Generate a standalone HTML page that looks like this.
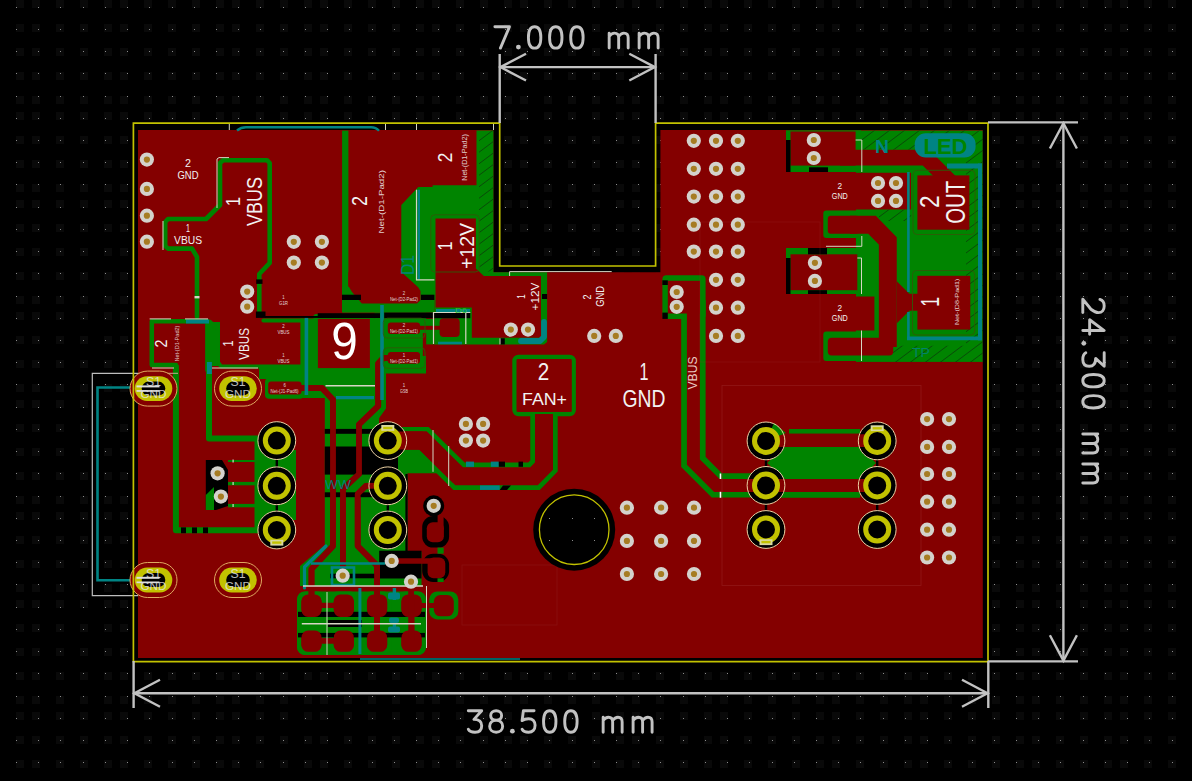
<!DOCTYPE html><html><head><meta charset="utf-8"><title>PCB</title><style>html,body{margin:0;padding:0;background:#000;overflow:hidden}svg{display:block}text{font-family:"Liberation Sans",sans-serif}</style></head><body><svg width="1192" height="781" viewBox="0 0 1192 781" font-family="'Liberation Sans', sans-serif"><path d="M16 0h8v8h-8zM32 0h8v8h-8zM56 0h8v8h-8zM80 0h8v8h-8zM104 0h8v8h-8zM120 0h8v8h-8zM144 0h8v8h-8zM168 0h8v8h-8zM192 0h8v8h-8zM216 0h8v8h-8zM232 0h8v8h-8zM256 0h8v8h-8zM280 0h8v8h-8zM304 0h8v8h-8zM320 0h8v8h-8zM344 0h8v8h-8zM368 0h8v8h-8zM392 0h8v8h-8zM416 0h8v8h-8zM432 0h8v8h-8zM456 0h8v8h-8zM480 0h8v8h-8zM504 0h8v8h-8zM520 0h8v8h-8zM544 0h8v8h-8zM568 0h8v8h-8zM592 0h8v8h-8zM616 0h8v8h-8zM632 0h8v8h-8zM656 0h8v8h-8zM680 0h8v8h-8zM704 0h8v8h-8zM720 0h8v8h-8zM744 0h8v8h-8zM768 0h8v8h-8zM792 0h8v8h-8zM816 0h8v8h-8zM832 0h8v8h-8zM856 0h8v8h-8zM880 0h8v8h-8zM904 0h8v8h-8zM920 0h8v8h-8zM944 0h8v8h-8zM968 0h8v8h-8zM992 0h8v8h-8zM1016 0h8v8h-8zM1032 0h8v8h-8zM1056 0h8v8h-8zM1080 0h8v8h-8zM1104 0h8v8h-8zM1120 0h8v8h-8zM1144 0h8v8h-8zM1168 0h8v8h-8zM16 24h8v8h-8zM32 24h8v8h-8zM56 24h8v8h-8zM80 24h8v8h-8zM104 24h8v8h-8zM120 24h8v8h-8zM144 24h8v8h-8zM168 24h8v8h-8zM192 24h8v8h-8zM216 24h8v8h-8zM232 24h8v8h-8zM256 24h8v8h-8zM280 24h8v8h-8zM304 24h8v8h-8zM320 24h8v8h-8zM344 24h8v8h-8zM368 24h8v8h-8zM392 24h8v8h-8zM416 24h8v8h-8zM432 24h8v8h-8zM456 24h8v8h-8zM480 24h8v8h-8zM504 24h8v8h-8zM520 24h8v8h-8zM544 24h8v8h-8zM568 24h8v8h-8zM592 24h8v8h-8zM616 24h8v8h-8zM632 24h8v8h-8zM656 24h8v8h-8zM680 24h8v8h-8zM704 24h8v8h-8zM720 24h8v8h-8zM744 24h8v8h-8zM768 24h8v8h-8zM792 24h8v8h-8zM816 24h8v8h-8zM832 24h8v8h-8zM856 24h8v8h-8zM880 24h8v8h-8zM904 24h8v8h-8zM920 24h8v8h-8zM944 24h8v8h-8zM968 24h8v8h-8zM992 24h8v8h-8zM1016 24h8v8h-8zM1032 24h8v8h-8zM1056 24h8v8h-8zM1080 24h8v8h-8zM1104 24h8v8h-8zM1120 24h8v8h-8zM1144 24h8v8h-8zM1168 24h8v8h-8zM16 48h8v8h-8zM32 48h8v8h-8zM56 48h8v8h-8zM80 48h8v8h-8zM104 48h8v8h-8zM120 48h8v8h-8zM144 48h8v8h-8zM168 48h8v8h-8zM192 48h8v8h-8zM216 48h8v8h-8zM232 48h8v8h-8zM256 48h8v8h-8zM280 48h8v8h-8zM304 48h8v8h-8zM320 48h8v8h-8zM344 48h8v8h-8zM368 48h8v8h-8zM392 48h8v8h-8zM416 48h8v8h-8zM432 48h8v8h-8zM456 48h8v8h-8zM480 48h8v8h-8zM504 48h8v8h-8zM520 48h8v8h-8zM544 48h8v8h-8zM568 48h8v8h-8zM592 48h8v8h-8zM616 48h8v8h-8zM632 48h8v8h-8zM656 48h8v8h-8zM680 48h8v8h-8zM704 48h8v8h-8zM720 48h8v8h-8zM744 48h8v8h-8zM768 48h8v8h-8zM792 48h8v8h-8zM816 48h8v8h-8zM832 48h8v8h-8zM856 48h8v8h-8zM880 48h8v8h-8zM904 48h8v8h-8zM920 48h8v8h-8zM944 48h8v8h-8zM968 48h8v8h-8zM992 48h8v8h-8zM1016 48h8v8h-8zM1032 48h8v8h-8zM1056 48h8v8h-8zM1080 48h8v8h-8zM1104 48h8v8h-8zM1120 48h8v8h-8zM1144 48h8v8h-8zM1168 48h8v8h-8zM16 72h8v8h-8zM32 72h8v8h-8zM56 72h8v8h-8zM80 72h8v8h-8zM104 72h8v8h-8zM120 72h8v8h-8zM144 72h8v8h-8zM168 72h8v8h-8zM192 72h8v8h-8zM216 72h8v8h-8zM232 72h8v8h-8zM256 72h8v8h-8zM280 72h8v8h-8zM304 72h8v8h-8zM320 72h8v8h-8zM344 72h8v8h-8zM368 72h8v8h-8zM392 72h8v8h-8zM416 72h8v8h-8zM432 72h8v8h-8zM456 72h8v8h-8zM480 72h8v8h-8zM504 72h8v8h-8zM520 72h8v8h-8zM544 72h8v8h-8zM568 72h8v8h-8zM592 72h8v8h-8zM616 72h8v8h-8zM632 72h8v8h-8zM656 72h8v8h-8zM680 72h8v8h-8zM704 72h8v8h-8zM720 72h8v8h-8zM744 72h8v8h-8zM768 72h8v8h-8zM792 72h8v8h-8zM816 72h8v8h-8zM832 72h8v8h-8zM856 72h8v8h-8zM880 72h8v8h-8zM904 72h8v8h-8zM920 72h8v8h-8zM944 72h8v8h-8zM968 72h8v8h-8zM992 72h8v8h-8zM1016 72h8v8h-8zM1032 72h8v8h-8zM1056 72h8v8h-8zM1080 72h8v8h-8zM1104 72h8v8h-8zM1120 72h8v8h-8zM1144 72h8v8h-8zM1168 72h8v8h-8zM16 96h8v8h-8zM32 96h8v8h-8zM56 96h8v8h-8zM80 96h8v8h-8zM104 96h8v8h-8zM120 96h8v8h-8zM144 96h8v8h-8zM168 96h8v8h-8zM192 96h8v8h-8zM216 96h8v8h-8zM232 96h8v8h-8zM256 96h8v8h-8zM280 96h8v8h-8zM304 96h8v8h-8zM320 96h8v8h-8zM344 96h8v8h-8zM368 96h8v8h-8zM392 96h8v8h-8zM416 96h8v8h-8zM432 96h8v8h-8zM456 96h8v8h-8zM480 96h8v8h-8zM504 96h8v8h-8zM520 96h8v8h-8zM544 96h8v8h-8zM568 96h8v8h-8zM592 96h8v8h-8zM616 96h8v8h-8zM632 96h8v8h-8zM656 96h8v8h-8zM680 96h8v8h-8zM704 96h8v8h-8zM720 96h8v8h-8zM744 96h8v8h-8zM768 96h8v8h-8zM792 96h8v8h-8zM816 96h8v8h-8zM832 96h8v8h-8zM856 96h8v8h-8zM880 96h8v8h-8zM904 96h8v8h-8zM920 96h8v8h-8zM944 96h8v8h-8zM968 96h8v8h-8zM992 96h8v8h-8zM1016 96h8v8h-8zM1032 96h8v8h-8zM1056 96h8v8h-8zM1080 96h8v8h-8zM1104 96h8v8h-8zM1120 96h8v8h-8zM1144 96h8v8h-8zM1168 96h8v8h-8zM16 112h8v8h-8zM32 112h8v8h-8zM56 112h8v8h-8zM80 112h8v8h-8zM104 112h8v8h-8zM120 112h8v8h-8zM144 112h8v8h-8zM168 112h8v8h-8zM192 112h8v8h-8zM216 112h8v8h-8zM232 112h8v8h-8zM256 112h8v8h-8zM280 112h8v8h-8zM304 112h8v8h-8zM320 112h8v8h-8zM344 112h8v8h-8zM368 112h8v8h-8zM392 112h8v8h-8zM416 112h8v8h-8zM432 112h8v8h-8zM456 112h8v8h-8zM480 112h8v8h-8zM504 112h8v8h-8zM520 112h8v8h-8zM544 112h8v8h-8zM568 112h8v8h-8zM592 112h8v8h-8zM616 112h8v8h-8zM632 112h8v8h-8zM656 112h8v8h-8zM680 112h8v8h-8zM704 112h8v8h-8zM720 112h8v8h-8zM744 112h8v8h-8zM768 112h8v8h-8zM792 112h8v8h-8zM816 112h8v8h-8zM832 112h8v8h-8zM856 112h8v8h-8zM880 112h8v8h-8zM904 112h8v8h-8zM920 112h8v8h-8zM944 112h8v8h-8zM968 112h8v8h-8zM992 112h8v8h-8zM1016 112h8v8h-8zM1032 112h8v8h-8zM1056 112h8v8h-8zM1080 112h8v8h-8zM1104 112h8v8h-8zM1120 112h8v8h-8zM1144 112h8v8h-8zM1168 112h8v8h-8zM16 136h8v8h-8zM32 136h8v8h-8zM56 136h8v8h-8zM80 136h8v8h-8zM104 136h8v8h-8zM120 136h8v8h-8zM144 136h8v8h-8zM168 136h8v8h-8zM192 136h8v8h-8zM216 136h8v8h-8zM232 136h8v8h-8zM256 136h8v8h-8zM280 136h8v8h-8zM304 136h8v8h-8zM320 136h8v8h-8zM344 136h8v8h-8zM368 136h8v8h-8zM392 136h8v8h-8zM416 136h8v8h-8zM432 136h8v8h-8zM456 136h8v8h-8zM480 136h8v8h-8zM504 136h8v8h-8zM520 136h8v8h-8zM544 136h8v8h-8zM568 136h8v8h-8zM592 136h8v8h-8zM616 136h8v8h-8zM632 136h8v8h-8zM656 136h8v8h-8zM680 136h8v8h-8zM704 136h8v8h-8zM720 136h8v8h-8zM744 136h8v8h-8zM768 136h8v8h-8zM792 136h8v8h-8zM816 136h8v8h-8zM832 136h8v8h-8zM856 136h8v8h-8zM880 136h8v8h-8zM904 136h8v8h-8zM920 136h8v8h-8zM944 136h8v8h-8zM968 136h8v8h-8zM992 136h8v8h-8zM1016 136h8v8h-8zM1032 136h8v8h-8zM1056 136h8v8h-8zM1080 136h8v8h-8zM1104 136h8v8h-8zM1120 136h8v8h-8zM1144 136h8v8h-8zM1168 136h8v8h-8zM16 160h8v8h-8zM32 160h8v8h-8zM56 160h8v8h-8zM80 160h8v8h-8zM104 160h8v8h-8zM120 160h8v8h-8zM144 160h8v8h-8zM168 160h8v8h-8zM192 160h8v8h-8zM216 160h8v8h-8zM232 160h8v8h-8zM256 160h8v8h-8zM280 160h8v8h-8zM304 160h8v8h-8zM320 160h8v8h-8zM344 160h8v8h-8zM368 160h8v8h-8zM392 160h8v8h-8zM416 160h8v8h-8zM432 160h8v8h-8zM456 160h8v8h-8zM480 160h8v8h-8zM504 160h8v8h-8zM520 160h8v8h-8zM544 160h8v8h-8zM568 160h8v8h-8zM592 160h8v8h-8zM616 160h8v8h-8zM632 160h8v8h-8zM656 160h8v8h-8zM680 160h8v8h-8zM704 160h8v8h-8zM720 160h8v8h-8zM744 160h8v8h-8zM768 160h8v8h-8zM792 160h8v8h-8zM816 160h8v8h-8zM832 160h8v8h-8zM856 160h8v8h-8zM880 160h8v8h-8zM904 160h8v8h-8zM920 160h8v8h-8zM944 160h8v8h-8zM968 160h8v8h-8zM992 160h8v8h-8zM1016 160h8v8h-8zM1032 160h8v8h-8zM1056 160h8v8h-8zM1080 160h8v8h-8zM1104 160h8v8h-8zM1120 160h8v8h-8zM1144 160h8v8h-8zM1168 160h8v8h-8zM16 184h8v8h-8zM32 184h8v8h-8zM56 184h8v8h-8zM80 184h8v8h-8zM104 184h8v8h-8zM120 184h8v8h-8zM144 184h8v8h-8zM168 184h8v8h-8zM192 184h8v8h-8zM216 184h8v8h-8zM232 184h8v8h-8zM256 184h8v8h-8zM280 184h8v8h-8zM304 184h8v8h-8zM320 184h8v8h-8zM344 184h8v8h-8zM368 184h8v8h-8zM392 184h8v8h-8zM416 184h8v8h-8zM432 184h8v8h-8zM456 184h8v8h-8zM480 184h8v8h-8zM504 184h8v8h-8zM520 184h8v8h-8zM544 184h8v8h-8zM568 184h8v8h-8zM592 184h8v8h-8zM616 184h8v8h-8zM632 184h8v8h-8zM656 184h8v8h-8zM680 184h8v8h-8zM704 184h8v8h-8zM720 184h8v8h-8zM744 184h8v8h-8zM768 184h8v8h-8zM792 184h8v8h-8zM816 184h8v8h-8zM832 184h8v8h-8zM856 184h8v8h-8zM880 184h8v8h-8zM904 184h8v8h-8zM920 184h8v8h-8zM944 184h8v8h-8zM968 184h8v8h-8zM992 184h8v8h-8zM1016 184h8v8h-8zM1032 184h8v8h-8zM1056 184h8v8h-8zM1080 184h8v8h-8zM1104 184h8v8h-8zM1120 184h8v8h-8zM1144 184h8v8h-8zM1168 184h8v8h-8zM16 200h8v8h-8zM32 200h8v8h-8zM56 200h8v8h-8zM80 200h8v8h-8zM104 200h8v8h-8zM120 200h8v8h-8zM144 200h8v8h-8zM168 200h8v8h-8zM192 200h8v8h-8zM216 200h8v8h-8zM232 200h8v8h-8zM256 200h8v8h-8zM280 200h8v8h-8zM304 200h8v8h-8zM320 200h8v8h-8zM344 200h8v8h-8zM368 200h8v8h-8zM392 200h8v8h-8zM416 200h8v8h-8zM432 200h8v8h-8zM456 200h8v8h-8zM480 200h8v8h-8zM504 200h8v8h-8zM520 200h8v8h-8zM544 200h8v8h-8zM568 200h8v8h-8zM592 200h8v8h-8zM616 200h8v8h-8zM632 200h8v8h-8zM656 200h8v8h-8zM680 200h8v8h-8zM704 200h8v8h-8zM720 200h8v8h-8zM744 200h8v8h-8zM768 200h8v8h-8zM792 200h8v8h-8zM816 200h8v8h-8zM832 200h8v8h-8zM856 200h8v8h-8zM880 200h8v8h-8zM904 200h8v8h-8zM920 200h8v8h-8zM944 200h8v8h-8zM968 200h8v8h-8zM992 200h8v8h-8zM1016 200h8v8h-8zM1032 200h8v8h-8zM1056 200h8v8h-8zM1080 200h8v8h-8zM1104 200h8v8h-8zM1120 200h8v8h-8zM1144 200h8v8h-8zM1168 200h8v8h-8zM16 224h8v8h-8zM32 224h8v8h-8zM56 224h8v8h-8zM80 224h8v8h-8zM104 224h8v8h-8zM120 224h8v8h-8zM144 224h8v8h-8zM168 224h8v8h-8zM192 224h8v8h-8zM216 224h8v8h-8zM232 224h8v8h-8zM256 224h8v8h-8zM280 224h8v8h-8zM304 224h8v8h-8zM320 224h8v8h-8zM344 224h8v8h-8zM368 224h8v8h-8zM392 224h8v8h-8zM416 224h8v8h-8zM432 224h8v8h-8zM456 224h8v8h-8zM480 224h8v8h-8zM504 224h8v8h-8zM520 224h8v8h-8zM544 224h8v8h-8zM568 224h8v8h-8zM592 224h8v8h-8zM616 224h8v8h-8zM632 224h8v8h-8zM656 224h8v8h-8zM680 224h8v8h-8zM704 224h8v8h-8zM720 224h8v8h-8zM744 224h8v8h-8zM768 224h8v8h-8zM792 224h8v8h-8zM816 224h8v8h-8zM832 224h8v8h-8zM856 224h8v8h-8zM880 224h8v8h-8zM904 224h8v8h-8zM920 224h8v8h-8zM944 224h8v8h-8zM968 224h8v8h-8zM992 224h8v8h-8zM1016 224h8v8h-8zM1032 224h8v8h-8zM1056 224h8v8h-8zM1080 224h8v8h-8zM1104 224h8v8h-8zM1120 224h8v8h-8zM1144 224h8v8h-8zM1168 224h8v8h-8zM16 248h8v8h-8zM32 248h8v8h-8zM56 248h8v8h-8zM80 248h8v8h-8zM104 248h8v8h-8zM120 248h8v8h-8zM144 248h8v8h-8zM168 248h8v8h-8zM192 248h8v8h-8zM216 248h8v8h-8zM232 248h8v8h-8zM256 248h8v8h-8zM280 248h8v8h-8zM304 248h8v8h-8zM320 248h8v8h-8zM344 248h8v8h-8zM368 248h8v8h-8zM392 248h8v8h-8zM416 248h8v8h-8zM432 248h8v8h-8zM456 248h8v8h-8zM480 248h8v8h-8zM504 248h8v8h-8zM520 248h8v8h-8zM544 248h8v8h-8zM568 248h8v8h-8zM592 248h8v8h-8zM616 248h8v8h-8zM632 248h8v8h-8zM656 248h8v8h-8zM680 248h8v8h-8zM704 248h8v8h-8zM720 248h8v8h-8zM744 248h8v8h-8zM768 248h8v8h-8zM792 248h8v8h-8zM816 248h8v8h-8zM832 248h8v8h-8zM856 248h8v8h-8zM880 248h8v8h-8zM904 248h8v8h-8zM920 248h8v8h-8zM944 248h8v8h-8zM968 248h8v8h-8zM992 248h8v8h-8zM1016 248h8v8h-8zM1032 248h8v8h-8zM1056 248h8v8h-8zM1080 248h8v8h-8zM1104 248h8v8h-8zM1120 248h8v8h-8zM1144 248h8v8h-8zM1168 248h8v8h-8zM16 272h8v8h-8zM32 272h8v8h-8zM56 272h8v8h-8zM80 272h8v8h-8zM104 272h8v8h-8zM120 272h8v8h-8zM144 272h8v8h-8zM168 272h8v8h-8zM192 272h8v8h-8zM216 272h8v8h-8zM232 272h8v8h-8zM256 272h8v8h-8zM280 272h8v8h-8zM304 272h8v8h-8zM320 272h8v8h-8zM344 272h8v8h-8zM368 272h8v8h-8zM392 272h8v8h-8zM416 272h8v8h-8zM432 272h8v8h-8zM456 272h8v8h-8zM480 272h8v8h-8zM504 272h8v8h-8zM520 272h8v8h-8zM544 272h8v8h-8zM568 272h8v8h-8zM592 272h8v8h-8zM616 272h8v8h-8zM632 272h8v8h-8zM656 272h8v8h-8zM680 272h8v8h-8zM704 272h8v8h-8zM720 272h8v8h-8zM744 272h8v8h-8zM768 272h8v8h-8zM792 272h8v8h-8zM816 272h8v8h-8zM832 272h8v8h-8zM856 272h8v8h-8zM880 272h8v8h-8zM904 272h8v8h-8zM920 272h8v8h-8zM944 272h8v8h-8zM968 272h8v8h-8zM992 272h8v8h-8zM1016 272h8v8h-8zM1032 272h8v8h-8zM1056 272h8v8h-8zM1080 272h8v8h-8zM1104 272h8v8h-8zM1120 272h8v8h-8zM1144 272h8v8h-8zM1168 272h8v8h-8zM16 296h8v8h-8zM32 296h8v8h-8zM56 296h8v8h-8zM80 296h8v8h-8zM104 296h8v8h-8zM120 296h8v8h-8zM144 296h8v8h-8zM168 296h8v8h-8zM192 296h8v8h-8zM216 296h8v8h-8zM232 296h8v8h-8zM256 296h8v8h-8zM280 296h8v8h-8zM304 296h8v8h-8zM320 296h8v8h-8zM344 296h8v8h-8zM368 296h8v8h-8zM392 296h8v8h-8zM416 296h8v8h-8zM432 296h8v8h-8zM456 296h8v8h-8zM480 296h8v8h-8zM504 296h8v8h-8zM520 296h8v8h-8zM544 296h8v8h-8zM568 296h8v8h-8zM592 296h8v8h-8zM616 296h8v8h-8zM632 296h8v8h-8zM656 296h8v8h-8zM680 296h8v8h-8zM704 296h8v8h-8zM720 296h8v8h-8zM744 296h8v8h-8zM768 296h8v8h-8zM792 296h8v8h-8zM816 296h8v8h-8zM832 296h8v8h-8zM856 296h8v8h-8zM880 296h8v8h-8zM904 296h8v8h-8zM920 296h8v8h-8zM944 296h8v8h-8zM968 296h8v8h-8zM992 296h8v8h-8zM1016 296h8v8h-8zM1032 296h8v8h-8zM1056 296h8v8h-8zM1080 296h8v8h-8zM1104 296h8v8h-8zM1120 296h8v8h-8zM1144 296h8v8h-8zM1168 296h8v8h-8zM16 312h8v8h-8zM32 312h8v8h-8zM56 312h8v8h-8zM80 312h8v8h-8zM104 312h8v8h-8zM120 312h8v8h-8zM144 312h8v8h-8zM168 312h8v8h-8zM192 312h8v8h-8zM216 312h8v8h-8zM232 312h8v8h-8zM256 312h8v8h-8zM280 312h8v8h-8zM304 312h8v8h-8zM320 312h8v8h-8zM344 312h8v8h-8zM368 312h8v8h-8zM392 312h8v8h-8zM416 312h8v8h-8zM432 312h8v8h-8zM456 312h8v8h-8zM480 312h8v8h-8zM504 312h8v8h-8zM520 312h8v8h-8zM544 312h8v8h-8zM568 312h8v8h-8zM592 312h8v8h-8zM616 312h8v8h-8zM632 312h8v8h-8zM656 312h8v8h-8zM680 312h8v8h-8zM704 312h8v8h-8zM720 312h8v8h-8zM744 312h8v8h-8zM768 312h8v8h-8zM792 312h8v8h-8zM816 312h8v8h-8zM832 312h8v8h-8zM856 312h8v8h-8zM880 312h8v8h-8zM904 312h8v8h-8zM920 312h8v8h-8zM944 312h8v8h-8zM968 312h8v8h-8zM992 312h8v8h-8zM1016 312h8v8h-8zM1032 312h8v8h-8zM1056 312h8v8h-8zM1080 312h8v8h-8zM1104 312h8v8h-8zM1120 312h8v8h-8zM1144 312h8v8h-8zM1168 312h8v8h-8zM16 336h8v8h-8zM32 336h8v8h-8zM56 336h8v8h-8zM80 336h8v8h-8zM104 336h8v8h-8zM120 336h8v8h-8zM144 336h8v8h-8zM168 336h8v8h-8zM192 336h8v8h-8zM216 336h8v8h-8zM232 336h8v8h-8zM256 336h8v8h-8zM280 336h8v8h-8zM304 336h8v8h-8zM320 336h8v8h-8zM344 336h8v8h-8zM368 336h8v8h-8zM392 336h8v8h-8zM416 336h8v8h-8zM432 336h8v8h-8zM456 336h8v8h-8zM480 336h8v8h-8zM504 336h8v8h-8zM520 336h8v8h-8zM544 336h8v8h-8zM568 336h8v8h-8zM592 336h8v8h-8zM616 336h8v8h-8zM632 336h8v8h-8zM656 336h8v8h-8zM680 336h8v8h-8zM704 336h8v8h-8zM720 336h8v8h-8zM744 336h8v8h-8zM768 336h8v8h-8zM792 336h8v8h-8zM816 336h8v8h-8zM832 336h8v8h-8zM856 336h8v8h-8zM880 336h8v8h-8zM904 336h8v8h-8zM920 336h8v8h-8zM944 336h8v8h-8zM968 336h8v8h-8zM992 336h8v8h-8zM1016 336h8v8h-8zM1032 336h8v8h-8zM1056 336h8v8h-8zM1080 336h8v8h-8zM1104 336h8v8h-8zM1120 336h8v8h-8zM1144 336h8v8h-8zM1168 336h8v8h-8zM16 360h8v8h-8zM32 360h8v8h-8zM56 360h8v8h-8zM80 360h8v8h-8zM104 360h8v8h-8zM120 360h8v8h-8zM144 360h8v8h-8zM168 360h8v8h-8zM192 360h8v8h-8zM216 360h8v8h-8zM232 360h8v8h-8zM256 360h8v8h-8zM280 360h8v8h-8zM304 360h8v8h-8zM320 360h8v8h-8zM344 360h8v8h-8zM368 360h8v8h-8zM392 360h8v8h-8zM416 360h8v8h-8zM432 360h8v8h-8zM456 360h8v8h-8zM480 360h8v8h-8zM504 360h8v8h-8zM520 360h8v8h-8zM544 360h8v8h-8zM568 360h8v8h-8zM592 360h8v8h-8zM616 360h8v8h-8zM632 360h8v8h-8zM656 360h8v8h-8zM680 360h8v8h-8zM704 360h8v8h-8zM720 360h8v8h-8zM744 360h8v8h-8zM768 360h8v8h-8zM792 360h8v8h-8zM816 360h8v8h-8zM832 360h8v8h-8zM856 360h8v8h-8zM880 360h8v8h-8zM904 360h8v8h-8zM920 360h8v8h-8zM944 360h8v8h-8zM968 360h8v8h-8zM992 360h8v8h-8zM1016 360h8v8h-8zM1032 360h8v8h-8zM1056 360h8v8h-8zM1080 360h8v8h-8zM1104 360h8v8h-8zM1120 360h8v8h-8zM1144 360h8v8h-8zM1168 360h8v8h-8zM16 384h8v8h-8zM32 384h8v8h-8zM56 384h8v8h-8zM80 384h8v8h-8zM104 384h8v8h-8zM120 384h8v8h-8zM144 384h8v8h-8zM168 384h8v8h-8zM192 384h8v8h-8zM216 384h8v8h-8zM232 384h8v8h-8zM256 384h8v8h-8zM280 384h8v8h-8zM304 384h8v8h-8zM320 384h8v8h-8zM344 384h8v8h-8zM368 384h8v8h-8zM392 384h8v8h-8zM416 384h8v8h-8zM432 384h8v8h-8zM456 384h8v8h-8zM480 384h8v8h-8zM504 384h8v8h-8zM520 384h8v8h-8zM544 384h8v8h-8zM568 384h8v8h-8zM592 384h8v8h-8zM616 384h8v8h-8zM632 384h8v8h-8zM656 384h8v8h-8zM680 384h8v8h-8zM704 384h8v8h-8zM720 384h8v8h-8zM744 384h8v8h-8zM768 384h8v8h-8zM792 384h8v8h-8zM816 384h8v8h-8zM832 384h8v8h-8zM856 384h8v8h-8zM880 384h8v8h-8zM904 384h8v8h-8zM920 384h8v8h-8zM944 384h8v8h-8zM968 384h8v8h-8zM992 384h8v8h-8zM1016 384h8v8h-8zM1032 384h8v8h-8zM1056 384h8v8h-8zM1080 384h8v8h-8zM1104 384h8v8h-8zM1120 384h8v8h-8zM1144 384h8v8h-8zM1168 384h8v8h-8zM16 400h8v8h-8zM32 400h8v8h-8zM56 400h8v8h-8zM80 400h8v8h-8zM104 400h8v8h-8zM120 400h8v8h-8zM144 400h8v8h-8zM168 400h8v8h-8zM192 400h8v8h-8zM216 400h8v8h-8zM232 400h8v8h-8zM256 400h8v8h-8zM280 400h8v8h-8zM304 400h8v8h-8zM320 400h8v8h-8zM344 400h8v8h-8zM368 400h8v8h-8zM392 400h8v8h-8zM416 400h8v8h-8zM432 400h8v8h-8zM456 400h8v8h-8zM480 400h8v8h-8zM504 400h8v8h-8zM520 400h8v8h-8zM544 400h8v8h-8zM568 400h8v8h-8zM592 400h8v8h-8zM616 400h8v8h-8zM632 400h8v8h-8zM656 400h8v8h-8zM680 400h8v8h-8zM704 400h8v8h-8zM720 400h8v8h-8zM744 400h8v8h-8zM768 400h8v8h-8zM792 400h8v8h-8zM816 400h8v8h-8zM832 400h8v8h-8zM856 400h8v8h-8zM880 400h8v8h-8zM904 400h8v8h-8zM920 400h8v8h-8zM944 400h8v8h-8zM968 400h8v8h-8zM992 400h8v8h-8zM1016 400h8v8h-8zM1032 400h8v8h-8zM1056 400h8v8h-8zM1080 400h8v8h-8zM1104 400h8v8h-8zM1120 400h8v8h-8zM1144 400h8v8h-8zM1168 400h8v8h-8zM16 424h8v8h-8zM32 424h8v8h-8zM56 424h8v8h-8zM80 424h8v8h-8zM104 424h8v8h-8zM120 424h8v8h-8zM144 424h8v8h-8zM168 424h8v8h-8zM192 424h8v8h-8zM216 424h8v8h-8zM232 424h8v8h-8zM256 424h8v8h-8zM280 424h8v8h-8zM304 424h8v8h-8zM320 424h8v8h-8zM344 424h8v8h-8zM368 424h8v8h-8zM392 424h8v8h-8zM416 424h8v8h-8zM432 424h8v8h-8zM456 424h8v8h-8zM480 424h8v8h-8zM504 424h8v8h-8zM520 424h8v8h-8zM544 424h8v8h-8zM568 424h8v8h-8zM592 424h8v8h-8zM616 424h8v8h-8zM632 424h8v8h-8zM656 424h8v8h-8zM680 424h8v8h-8zM704 424h8v8h-8zM720 424h8v8h-8zM744 424h8v8h-8zM768 424h8v8h-8zM792 424h8v8h-8zM816 424h8v8h-8zM832 424h8v8h-8zM856 424h8v8h-8zM880 424h8v8h-8zM904 424h8v8h-8zM920 424h8v8h-8zM944 424h8v8h-8zM968 424h8v8h-8zM992 424h8v8h-8zM1016 424h8v8h-8zM1032 424h8v8h-8zM1056 424h8v8h-8zM1080 424h8v8h-8zM1104 424h8v8h-8zM1120 424h8v8h-8zM1144 424h8v8h-8zM1168 424h8v8h-8zM16 448h8v8h-8zM32 448h8v8h-8zM56 448h8v8h-8zM80 448h8v8h-8zM104 448h8v8h-8zM120 448h8v8h-8zM144 448h8v8h-8zM168 448h8v8h-8zM192 448h8v8h-8zM216 448h8v8h-8zM232 448h8v8h-8zM256 448h8v8h-8zM280 448h8v8h-8zM304 448h8v8h-8zM320 448h8v8h-8zM344 448h8v8h-8zM368 448h8v8h-8zM392 448h8v8h-8zM416 448h8v8h-8zM432 448h8v8h-8zM456 448h8v8h-8zM480 448h8v8h-8zM504 448h8v8h-8zM520 448h8v8h-8zM544 448h8v8h-8zM568 448h8v8h-8zM592 448h8v8h-8zM616 448h8v8h-8zM632 448h8v8h-8zM656 448h8v8h-8zM680 448h8v8h-8zM704 448h8v8h-8zM720 448h8v8h-8zM744 448h8v8h-8zM768 448h8v8h-8zM792 448h8v8h-8zM816 448h8v8h-8zM832 448h8v8h-8zM856 448h8v8h-8zM880 448h8v8h-8zM904 448h8v8h-8zM920 448h8v8h-8zM944 448h8v8h-8zM968 448h8v8h-8zM992 448h8v8h-8zM1016 448h8v8h-8zM1032 448h8v8h-8zM1056 448h8v8h-8zM1080 448h8v8h-8zM1104 448h8v8h-8zM1120 448h8v8h-8zM1144 448h8v8h-8zM1168 448h8v8h-8zM16 472h8v8h-8zM32 472h8v8h-8zM56 472h8v8h-8zM80 472h8v8h-8zM104 472h8v8h-8zM120 472h8v8h-8zM144 472h8v8h-8zM168 472h8v8h-8zM192 472h8v8h-8zM216 472h8v8h-8zM232 472h8v8h-8zM256 472h8v8h-8zM280 472h8v8h-8zM304 472h8v8h-8zM320 472h8v8h-8zM344 472h8v8h-8zM368 472h8v8h-8zM392 472h8v8h-8zM416 472h8v8h-8zM432 472h8v8h-8zM456 472h8v8h-8zM480 472h8v8h-8zM504 472h8v8h-8zM520 472h8v8h-8zM544 472h8v8h-8zM568 472h8v8h-8zM592 472h8v8h-8zM616 472h8v8h-8zM632 472h8v8h-8zM656 472h8v8h-8zM680 472h8v8h-8zM704 472h8v8h-8zM720 472h8v8h-8zM744 472h8v8h-8zM768 472h8v8h-8zM792 472h8v8h-8zM816 472h8v8h-8zM832 472h8v8h-8zM856 472h8v8h-8zM880 472h8v8h-8zM904 472h8v8h-8zM920 472h8v8h-8zM944 472h8v8h-8zM968 472h8v8h-8zM992 472h8v8h-8zM1016 472h8v8h-8zM1032 472h8v8h-8zM1056 472h8v8h-8zM1080 472h8v8h-8zM1104 472h8v8h-8zM1120 472h8v8h-8zM1144 472h8v8h-8zM1168 472h8v8h-8zM16 496h8v8h-8zM32 496h8v8h-8zM56 496h8v8h-8zM80 496h8v8h-8zM104 496h8v8h-8zM120 496h8v8h-8zM144 496h8v8h-8zM168 496h8v8h-8zM192 496h8v8h-8zM216 496h8v8h-8zM232 496h8v8h-8zM256 496h8v8h-8zM280 496h8v8h-8zM304 496h8v8h-8zM320 496h8v8h-8zM344 496h8v8h-8zM368 496h8v8h-8zM392 496h8v8h-8zM416 496h8v8h-8zM432 496h8v8h-8zM456 496h8v8h-8zM480 496h8v8h-8zM504 496h8v8h-8zM520 496h8v8h-8zM544 496h8v8h-8zM568 496h8v8h-8zM592 496h8v8h-8zM616 496h8v8h-8zM632 496h8v8h-8zM656 496h8v8h-8zM680 496h8v8h-8zM704 496h8v8h-8zM720 496h8v8h-8zM744 496h8v8h-8zM768 496h8v8h-8zM792 496h8v8h-8zM816 496h8v8h-8zM832 496h8v8h-8zM856 496h8v8h-8zM880 496h8v8h-8zM904 496h8v8h-8zM920 496h8v8h-8zM944 496h8v8h-8zM968 496h8v8h-8zM992 496h8v8h-8zM1016 496h8v8h-8zM1032 496h8v8h-8zM1056 496h8v8h-8zM1080 496h8v8h-8zM1104 496h8v8h-8zM1120 496h8v8h-8zM1144 496h8v8h-8zM1168 496h8v8h-8zM16 512h8v8h-8zM32 512h8v8h-8zM56 512h8v8h-8zM80 512h8v8h-8zM104 512h8v8h-8zM120 512h8v8h-8zM144 512h8v8h-8zM168 512h8v8h-8zM192 512h8v8h-8zM216 512h8v8h-8zM232 512h8v8h-8zM256 512h8v8h-8zM280 512h8v8h-8zM304 512h8v8h-8zM320 512h8v8h-8zM344 512h8v8h-8zM368 512h8v8h-8zM392 512h8v8h-8zM416 512h8v8h-8zM432 512h8v8h-8zM456 512h8v8h-8zM480 512h8v8h-8zM504 512h8v8h-8zM520 512h8v8h-8zM544 512h8v8h-8zM568 512h8v8h-8zM592 512h8v8h-8zM616 512h8v8h-8zM632 512h8v8h-8zM656 512h8v8h-8zM680 512h8v8h-8zM704 512h8v8h-8zM720 512h8v8h-8zM744 512h8v8h-8zM768 512h8v8h-8zM792 512h8v8h-8zM816 512h8v8h-8zM832 512h8v8h-8zM856 512h8v8h-8zM880 512h8v8h-8zM904 512h8v8h-8zM920 512h8v8h-8zM944 512h8v8h-8zM968 512h8v8h-8zM992 512h8v8h-8zM1016 512h8v8h-8zM1032 512h8v8h-8zM1056 512h8v8h-8zM1080 512h8v8h-8zM1104 512h8v8h-8zM1120 512h8v8h-8zM1144 512h8v8h-8zM1168 512h8v8h-8zM16 536h8v8h-8zM32 536h8v8h-8zM56 536h8v8h-8zM80 536h8v8h-8zM104 536h8v8h-8zM120 536h8v8h-8zM144 536h8v8h-8zM168 536h8v8h-8zM192 536h8v8h-8zM216 536h8v8h-8zM232 536h8v8h-8zM256 536h8v8h-8zM280 536h8v8h-8zM304 536h8v8h-8zM320 536h8v8h-8zM344 536h8v8h-8zM368 536h8v8h-8zM392 536h8v8h-8zM416 536h8v8h-8zM432 536h8v8h-8zM456 536h8v8h-8zM480 536h8v8h-8zM504 536h8v8h-8zM520 536h8v8h-8zM544 536h8v8h-8zM568 536h8v8h-8zM592 536h8v8h-8zM616 536h8v8h-8zM632 536h8v8h-8zM656 536h8v8h-8zM680 536h8v8h-8zM704 536h8v8h-8zM720 536h8v8h-8zM744 536h8v8h-8zM768 536h8v8h-8zM792 536h8v8h-8zM816 536h8v8h-8zM832 536h8v8h-8zM856 536h8v8h-8zM880 536h8v8h-8zM904 536h8v8h-8zM920 536h8v8h-8zM944 536h8v8h-8zM968 536h8v8h-8zM992 536h8v8h-8zM1016 536h8v8h-8zM1032 536h8v8h-8zM1056 536h8v8h-8zM1080 536h8v8h-8zM1104 536h8v8h-8zM1120 536h8v8h-8zM1144 536h8v8h-8zM1168 536h8v8h-8zM16 560h8v8h-8zM32 560h8v8h-8zM56 560h8v8h-8zM80 560h8v8h-8zM104 560h8v8h-8zM120 560h8v8h-8zM144 560h8v8h-8zM168 560h8v8h-8zM192 560h8v8h-8zM216 560h8v8h-8zM232 560h8v8h-8zM256 560h8v8h-8zM280 560h8v8h-8zM304 560h8v8h-8zM320 560h8v8h-8zM344 560h8v8h-8zM368 560h8v8h-8zM392 560h8v8h-8zM416 560h8v8h-8zM432 560h8v8h-8zM456 560h8v8h-8zM480 560h8v8h-8zM504 560h8v8h-8zM520 560h8v8h-8zM544 560h8v8h-8zM568 560h8v8h-8zM592 560h8v8h-8zM616 560h8v8h-8zM632 560h8v8h-8zM656 560h8v8h-8zM680 560h8v8h-8zM704 560h8v8h-8zM720 560h8v8h-8zM744 560h8v8h-8zM768 560h8v8h-8zM792 560h8v8h-8zM816 560h8v8h-8zM832 560h8v8h-8zM856 560h8v8h-8zM880 560h8v8h-8zM904 560h8v8h-8zM920 560h8v8h-8zM944 560h8v8h-8zM968 560h8v8h-8zM992 560h8v8h-8zM1016 560h8v8h-8zM1032 560h8v8h-8zM1056 560h8v8h-8zM1080 560h8v8h-8zM1104 560h8v8h-8zM1120 560h8v8h-8zM1144 560h8v8h-8zM1168 560h8v8h-8zM16 584h8v8h-8zM32 584h8v8h-8zM56 584h8v8h-8zM80 584h8v8h-8zM104 584h8v8h-8zM120 584h8v8h-8zM144 584h8v8h-8zM168 584h8v8h-8zM192 584h8v8h-8zM216 584h8v8h-8zM232 584h8v8h-8zM256 584h8v8h-8zM280 584h8v8h-8zM304 584h8v8h-8zM320 584h8v8h-8zM344 584h8v8h-8zM368 584h8v8h-8zM392 584h8v8h-8zM416 584h8v8h-8zM432 584h8v8h-8zM456 584h8v8h-8zM480 584h8v8h-8zM504 584h8v8h-8zM520 584h8v8h-8zM544 584h8v8h-8zM568 584h8v8h-8zM592 584h8v8h-8zM616 584h8v8h-8zM632 584h8v8h-8zM656 584h8v8h-8zM680 584h8v8h-8zM704 584h8v8h-8zM720 584h8v8h-8zM744 584h8v8h-8zM768 584h8v8h-8zM792 584h8v8h-8zM816 584h8v8h-8zM832 584h8v8h-8zM856 584h8v8h-8zM880 584h8v8h-8zM904 584h8v8h-8zM920 584h8v8h-8zM944 584h8v8h-8zM968 584h8v8h-8zM992 584h8v8h-8zM1016 584h8v8h-8zM1032 584h8v8h-8zM1056 584h8v8h-8zM1080 584h8v8h-8zM1104 584h8v8h-8zM1120 584h8v8h-8zM1144 584h8v8h-8zM1168 584h8v8h-8zM16 600h8v8h-8zM32 600h8v8h-8zM56 600h8v8h-8zM80 600h8v8h-8zM104 600h8v8h-8zM120 600h8v8h-8zM144 600h8v8h-8zM168 600h8v8h-8zM192 600h8v8h-8zM216 600h8v8h-8zM232 600h8v8h-8zM256 600h8v8h-8zM280 600h8v8h-8zM304 600h8v8h-8zM320 600h8v8h-8zM344 600h8v8h-8zM368 600h8v8h-8zM392 600h8v8h-8zM416 600h8v8h-8zM432 600h8v8h-8zM456 600h8v8h-8zM480 600h8v8h-8zM504 600h8v8h-8zM520 600h8v8h-8zM544 600h8v8h-8zM568 600h8v8h-8zM592 600h8v8h-8zM616 600h8v8h-8zM632 600h8v8h-8zM656 600h8v8h-8zM680 600h8v8h-8zM704 600h8v8h-8zM720 600h8v8h-8zM744 600h8v8h-8zM768 600h8v8h-8zM792 600h8v8h-8zM816 600h8v8h-8zM832 600h8v8h-8zM856 600h8v8h-8zM880 600h8v8h-8zM904 600h8v8h-8zM920 600h8v8h-8zM944 600h8v8h-8zM968 600h8v8h-8zM992 600h8v8h-8zM1016 600h8v8h-8zM1032 600h8v8h-8zM1056 600h8v8h-8zM1080 600h8v8h-8zM1104 600h8v8h-8zM1120 600h8v8h-8zM1144 600h8v8h-8zM1168 600h8v8h-8zM16 624h8v8h-8zM32 624h8v8h-8zM56 624h8v8h-8zM80 624h8v8h-8zM104 624h8v8h-8zM120 624h8v8h-8zM144 624h8v8h-8zM168 624h8v8h-8zM192 624h8v8h-8zM216 624h8v8h-8zM232 624h8v8h-8zM256 624h8v8h-8zM280 624h8v8h-8zM304 624h8v8h-8zM320 624h8v8h-8zM344 624h8v8h-8zM368 624h8v8h-8zM392 624h8v8h-8zM416 624h8v8h-8zM432 624h8v8h-8zM456 624h8v8h-8zM480 624h8v8h-8zM504 624h8v8h-8zM520 624h8v8h-8zM544 624h8v8h-8zM568 624h8v8h-8zM592 624h8v8h-8zM616 624h8v8h-8zM632 624h8v8h-8zM656 624h8v8h-8zM680 624h8v8h-8zM704 624h8v8h-8zM720 624h8v8h-8zM744 624h8v8h-8zM768 624h8v8h-8zM792 624h8v8h-8zM816 624h8v8h-8zM832 624h8v8h-8zM856 624h8v8h-8zM880 624h8v8h-8zM904 624h8v8h-8zM920 624h8v8h-8zM944 624h8v8h-8zM968 624h8v8h-8zM992 624h8v8h-8zM1016 624h8v8h-8zM1032 624h8v8h-8zM1056 624h8v8h-8zM1080 624h8v8h-8zM1104 624h8v8h-8zM1120 624h8v8h-8zM1144 624h8v8h-8zM1168 624h8v8h-8zM16 648h8v8h-8zM32 648h8v8h-8zM56 648h8v8h-8zM80 648h8v8h-8zM104 648h8v8h-8zM120 648h8v8h-8zM144 648h8v8h-8zM168 648h8v8h-8zM192 648h8v8h-8zM216 648h8v8h-8zM232 648h8v8h-8zM256 648h8v8h-8zM280 648h8v8h-8zM304 648h8v8h-8zM320 648h8v8h-8zM344 648h8v8h-8zM368 648h8v8h-8zM392 648h8v8h-8zM416 648h8v8h-8zM432 648h8v8h-8zM456 648h8v8h-8zM480 648h8v8h-8zM504 648h8v8h-8zM520 648h8v8h-8zM544 648h8v8h-8zM568 648h8v8h-8zM592 648h8v8h-8zM616 648h8v8h-8zM632 648h8v8h-8zM656 648h8v8h-8zM680 648h8v8h-8zM704 648h8v8h-8zM720 648h8v8h-8zM744 648h8v8h-8zM768 648h8v8h-8zM792 648h8v8h-8zM816 648h8v8h-8zM832 648h8v8h-8zM856 648h8v8h-8zM880 648h8v8h-8zM904 648h8v8h-8zM920 648h8v8h-8zM944 648h8v8h-8zM968 648h8v8h-8zM992 648h8v8h-8zM1016 648h8v8h-8zM1032 648h8v8h-8zM1056 648h8v8h-8zM1080 648h8v8h-8zM1104 648h8v8h-8zM1120 648h8v8h-8zM1144 648h8v8h-8zM1168 648h8v8h-8zM16 672h8v8h-8zM32 672h8v8h-8zM56 672h8v8h-8zM80 672h8v8h-8zM104 672h8v8h-8zM120 672h8v8h-8zM144 672h8v8h-8zM168 672h8v8h-8zM192 672h8v8h-8zM216 672h8v8h-8zM232 672h8v8h-8zM256 672h8v8h-8zM280 672h8v8h-8zM304 672h8v8h-8zM320 672h8v8h-8zM344 672h8v8h-8zM368 672h8v8h-8zM392 672h8v8h-8zM416 672h8v8h-8zM432 672h8v8h-8zM456 672h8v8h-8zM480 672h8v8h-8zM504 672h8v8h-8zM520 672h8v8h-8zM544 672h8v8h-8zM568 672h8v8h-8zM592 672h8v8h-8zM616 672h8v8h-8zM632 672h8v8h-8zM656 672h8v8h-8zM680 672h8v8h-8zM704 672h8v8h-8zM720 672h8v8h-8zM744 672h8v8h-8zM768 672h8v8h-8zM792 672h8v8h-8zM816 672h8v8h-8zM832 672h8v8h-8zM856 672h8v8h-8zM880 672h8v8h-8zM904 672h8v8h-8zM920 672h8v8h-8zM944 672h8v8h-8zM968 672h8v8h-8zM992 672h8v8h-8zM1016 672h8v8h-8zM1032 672h8v8h-8zM1056 672h8v8h-8zM1080 672h8v8h-8zM1104 672h8v8h-8zM1120 672h8v8h-8zM1144 672h8v8h-8zM1168 672h8v8h-8zM16 696h8v8h-8zM32 696h8v8h-8zM56 696h8v8h-8zM80 696h8v8h-8zM104 696h8v8h-8zM120 696h8v8h-8zM144 696h8v8h-8zM168 696h8v8h-8zM192 696h8v8h-8zM216 696h8v8h-8zM232 696h8v8h-8zM256 696h8v8h-8zM280 696h8v8h-8zM304 696h8v8h-8zM320 696h8v8h-8zM344 696h8v8h-8zM368 696h8v8h-8zM392 696h8v8h-8zM416 696h8v8h-8zM432 696h8v8h-8zM456 696h8v8h-8zM480 696h8v8h-8zM504 696h8v8h-8zM520 696h8v8h-8zM544 696h8v8h-8zM568 696h8v8h-8zM592 696h8v8h-8zM616 696h8v8h-8zM632 696h8v8h-8zM656 696h8v8h-8zM680 696h8v8h-8zM704 696h8v8h-8zM720 696h8v8h-8zM744 696h8v8h-8zM768 696h8v8h-8zM792 696h8v8h-8zM816 696h8v8h-8zM832 696h8v8h-8zM856 696h8v8h-8zM880 696h8v8h-8zM904 696h8v8h-8zM920 696h8v8h-8zM944 696h8v8h-8zM968 696h8v8h-8zM992 696h8v8h-8zM1016 696h8v8h-8zM1032 696h8v8h-8zM1056 696h8v8h-8zM1080 696h8v8h-8zM1104 696h8v8h-8zM1120 696h8v8h-8zM1144 696h8v8h-8zM1168 696h8v8h-8zM16 712h8v8h-8zM32 712h8v8h-8zM56 712h8v8h-8zM80 712h8v8h-8zM104 712h8v8h-8zM120 712h8v8h-8zM144 712h8v8h-8zM168 712h8v8h-8zM192 712h8v8h-8zM216 712h8v8h-8zM232 712h8v8h-8zM256 712h8v8h-8zM280 712h8v8h-8zM304 712h8v8h-8zM320 712h8v8h-8zM344 712h8v8h-8zM368 712h8v8h-8zM392 712h8v8h-8zM416 712h8v8h-8zM432 712h8v8h-8zM456 712h8v8h-8zM480 712h8v8h-8zM504 712h8v8h-8zM520 712h8v8h-8zM544 712h8v8h-8zM568 712h8v8h-8zM592 712h8v8h-8zM616 712h8v8h-8zM632 712h8v8h-8zM656 712h8v8h-8zM680 712h8v8h-8zM704 712h8v8h-8zM720 712h8v8h-8zM744 712h8v8h-8zM768 712h8v8h-8zM792 712h8v8h-8zM816 712h8v8h-8zM832 712h8v8h-8zM856 712h8v8h-8zM880 712h8v8h-8zM904 712h8v8h-8zM920 712h8v8h-8zM944 712h8v8h-8zM968 712h8v8h-8zM992 712h8v8h-8zM1016 712h8v8h-8zM1032 712h8v8h-8zM1056 712h8v8h-8zM1080 712h8v8h-8zM1104 712h8v8h-8zM1120 712h8v8h-8zM1144 712h8v8h-8zM1168 712h8v8h-8zM16 736h8v8h-8zM32 736h8v8h-8zM56 736h8v8h-8zM80 736h8v8h-8zM104 736h8v8h-8zM120 736h8v8h-8zM144 736h8v8h-8zM168 736h8v8h-8zM192 736h8v8h-8zM216 736h8v8h-8zM232 736h8v8h-8zM256 736h8v8h-8zM280 736h8v8h-8zM304 736h8v8h-8zM320 736h8v8h-8zM344 736h8v8h-8zM368 736h8v8h-8zM392 736h8v8h-8zM416 736h8v8h-8zM432 736h8v8h-8zM456 736h8v8h-8zM480 736h8v8h-8zM504 736h8v8h-8zM520 736h8v8h-8zM544 736h8v8h-8zM568 736h8v8h-8zM592 736h8v8h-8zM616 736h8v8h-8zM632 736h8v8h-8zM656 736h8v8h-8zM680 736h8v8h-8zM704 736h8v8h-8zM720 736h8v8h-8zM744 736h8v8h-8zM768 736h8v8h-8zM792 736h8v8h-8zM816 736h8v8h-8zM832 736h8v8h-8zM856 736h8v8h-8zM880 736h8v8h-8zM904 736h8v8h-8zM920 736h8v8h-8zM944 736h8v8h-8zM968 736h8v8h-8zM992 736h8v8h-8zM1016 736h8v8h-8zM1032 736h8v8h-8zM1056 736h8v8h-8zM1080 736h8v8h-8zM1104 736h8v8h-8zM1120 736h8v8h-8zM1144 736h8v8h-8zM1168 736h8v8h-8zM16 760h8v8h-8zM32 760h8v8h-8zM56 760h8v8h-8zM80 760h8v8h-8zM104 760h8v8h-8zM120 760h8v8h-8zM144 760h8v8h-8zM168 760h8v8h-8zM192 760h8v8h-8zM216 760h8v8h-8zM232 760h8v8h-8zM256 760h8v8h-8zM280 760h8v8h-8zM304 760h8v8h-8zM320 760h8v8h-8zM344 760h8v8h-8zM368 760h8v8h-8zM392 760h8v8h-8zM416 760h8v8h-8zM432 760h8v8h-8zM456 760h8v8h-8zM480 760h8v8h-8zM504 760h8v8h-8zM520 760h8v8h-8zM544 760h8v8h-8zM568 760h8v8h-8zM592 760h8v8h-8zM616 760h8v8h-8zM632 760h8v8h-8zM656 760h8v8h-8zM680 760h8v8h-8zM704 760h8v8h-8zM720 760h8v8h-8zM744 760h8v8h-8zM768 760h8v8h-8zM792 760h8v8h-8zM816 760h8v8h-8zM832 760h8v8h-8zM856 760h8v8h-8zM880 760h8v8h-8zM904 760h8v8h-8zM920 760h8v8h-8zM944 760h8v8h-8zM968 760h8v8h-8zM992 760h8v8h-8zM1016 760h8v8h-8zM1032 760h8v8h-8zM1056 760h8v8h-8zM1080 760h8v8h-8zM1104 760h8v8h-8zM1120 760h8v8h-8zM1144 760h8v8h-8zM1168 760h8v8h-8z" fill="#090909" shape-rendering="crispEdges"/>
<path d="M16 7h1M38 7h1M60 7h1M83 7h1M105 7h1M127 7h1M149 7h1M172 7h1M194 7h1M216 7h1M238 7h1M260 7h1M283 7h1M305 7h1M327 7h1M349 7h1M372 7h1M394 7h1M416 7h1M438 7h1M460 7h1M483 7h1M505 7h1M527 7h1M549 7h1M572 7h1M594 7h1M616 7h1M638 7h1M660 7h1M683 7h1M705 7h1M727 7h1M749 7h1M772 7h1M794 7h1M816 7h1M838 7h1M860 7h1M883 7h1M905 7h1M927 7h1M949 7h1M972 7h1M994 7h1M1016 7h1M1038 7h1M1060 7h1M1083 7h1M1105 7h1M1127 7h1M1149 7h1M1172 7h1M16 29h1M38 29h1M60 29h1M83 29h1M105 29h1M127 29h1M149 29h1M172 29h1M194 29h1M216 29h1M238 29h1M260 29h1M283 29h1M305 29h1M327 29h1M349 29h1M372 29h1M394 29h1M416 29h1M438 29h1M460 29h1M483 29h1M505 29h1M527 29h1M549 29h1M572 29h1M594 29h1M616 29h1M638 29h1M660 29h1M683 29h1M705 29h1M727 29h1M749 29h1M772 29h1M794 29h1M816 29h1M838 29h1M860 29h1M883 29h1M905 29h1M927 29h1M949 29h1M972 29h1M994 29h1M1016 29h1M1038 29h1M1060 29h1M1083 29h1M1105 29h1M1127 29h1M1149 29h1M1172 29h1M16 51h1M38 51h1M60 51h1M83 51h1M105 51h1M127 51h1M149 51h1M172 51h1M194 51h1M216 51h1M238 51h1M260 51h1M283 51h1M305 51h1M327 51h1M349 51h1M372 51h1M394 51h1M416 51h1M438 51h1M460 51h1M483 51h1M505 51h1M527 51h1M549 51h1M572 51h1M594 51h1M616 51h1M638 51h1M660 51h1M683 51h1M705 51h1M727 51h1M749 51h1M772 51h1M794 51h1M816 51h1M838 51h1M860 51h1M883 51h1M905 51h1M927 51h1M949 51h1M972 51h1M994 51h1M1016 51h1M1038 51h1M1060 51h1M1083 51h1M1105 51h1M1127 51h1M1149 51h1M1172 51h1M16 73h1M38 73h1M60 73h1M83 73h1M105 73h1M127 73h1M149 73h1M172 73h1M194 73h1M216 73h1M238 73h1M260 73h1M283 73h1M305 73h1M327 73h1M349 73h1M372 73h1M394 73h1M416 73h1M438 73h1M460 73h1M483 73h1M505 73h1M527 73h1M549 73h1M572 73h1M594 73h1M616 73h1M638 73h1M660 73h1M683 73h1M705 73h1M727 73h1M749 73h1M772 73h1M794 73h1M816 73h1M838 73h1M860 73h1M883 73h1M905 73h1M927 73h1M949 73h1M972 73h1M994 73h1M1016 73h1M1038 73h1M1060 73h1M1083 73h1M1105 73h1M1127 73h1M1149 73h1M1172 73h1M16 96h1M38 96h1M60 96h1M83 96h1M105 96h1M127 96h1M149 96h1M172 96h1M194 96h1M216 96h1M238 96h1M260 96h1M283 96h1M305 96h1M327 96h1M349 96h1M372 96h1M394 96h1M416 96h1M438 96h1M460 96h1M483 96h1M505 96h1M527 96h1M549 96h1M572 96h1M594 96h1M616 96h1M638 96h1M660 96h1M683 96h1M705 96h1M727 96h1M749 96h1M772 96h1M794 96h1M816 96h1M838 96h1M860 96h1M883 96h1M905 96h1M927 96h1M949 96h1M972 96h1M994 96h1M1016 96h1M1038 96h1M1060 96h1M1083 96h1M1105 96h1M1127 96h1M1149 96h1M1172 96h1M16 118h1M38 118h1M60 118h1M83 118h1M105 118h1M127 118h1M149 118h1M172 118h1M194 118h1M216 118h1M238 118h1M260 118h1M283 118h1M305 118h1M327 118h1M349 118h1M372 118h1M394 118h1M416 118h1M438 118h1M460 118h1M483 118h1M505 118h1M527 118h1M549 118h1M572 118h1M594 118h1M616 118h1M638 118h1M660 118h1M683 118h1M705 118h1M727 118h1M749 118h1M772 118h1M794 118h1M816 118h1M838 118h1M860 118h1M883 118h1M905 118h1M927 118h1M949 118h1M972 118h1M994 118h1M1016 118h1M1038 118h1M1060 118h1M1083 118h1M1105 118h1M1127 118h1M1149 118h1M1172 118h1M16 140h1M38 140h1M60 140h1M83 140h1M105 140h1M127 140h1M149 140h1M172 140h1M194 140h1M216 140h1M238 140h1M260 140h1M283 140h1M305 140h1M327 140h1M349 140h1M372 140h1M394 140h1M416 140h1M438 140h1M460 140h1M483 140h1M505 140h1M527 140h1M549 140h1M572 140h1M594 140h1M616 140h1M638 140h1M660 140h1M683 140h1M705 140h1M727 140h1M749 140h1M772 140h1M794 140h1M816 140h1M838 140h1M860 140h1M883 140h1M905 140h1M927 140h1M949 140h1M972 140h1M994 140h1M1016 140h1M1038 140h1M1060 140h1M1083 140h1M1105 140h1M1127 140h1M1149 140h1M1172 140h1M16 162h1M38 162h1M60 162h1M83 162h1M105 162h1M127 162h1M149 162h1M172 162h1M194 162h1M216 162h1M238 162h1M260 162h1M283 162h1M305 162h1M327 162h1M349 162h1M372 162h1M394 162h1M416 162h1M438 162h1M460 162h1M483 162h1M505 162h1M527 162h1M549 162h1M572 162h1M594 162h1M616 162h1M638 162h1M660 162h1M683 162h1M705 162h1M727 162h1M749 162h1M772 162h1M794 162h1M816 162h1M838 162h1M860 162h1M883 162h1M905 162h1M927 162h1M949 162h1M972 162h1M994 162h1M1016 162h1M1038 162h1M1060 162h1M1083 162h1M1105 162h1M1127 162h1M1149 162h1M1172 162h1M16 184h1M38 184h1M60 184h1M83 184h1M105 184h1M127 184h1M149 184h1M172 184h1M194 184h1M216 184h1M238 184h1M260 184h1M283 184h1M305 184h1M327 184h1M349 184h1M372 184h1M394 184h1M416 184h1M438 184h1M460 184h1M483 184h1M505 184h1M527 184h1M549 184h1M572 184h1M594 184h1M616 184h1M638 184h1M660 184h1M683 184h1M705 184h1M727 184h1M749 184h1M772 184h1M794 184h1M816 184h1M838 184h1M860 184h1M883 184h1M905 184h1M927 184h1M949 184h1M972 184h1M994 184h1M1016 184h1M1038 184h1M1060 184h1M1083 184h1M1105 184h1M1127 184h1M1149 184h1M1172 184h1M16 207h1M38 207h1M60 207h1M83 207h1M105 207h1M127 207h1M149 207h1M172 207h1M194 207h1M216 207h1M238 207h1M260 207h1M283 207h1M305 207h1M327 207h1M349 207h1M372 207h1M394 207h1M416 207h1M438 207h1M460 207h1M483 207h1M505 207h1M527 207h1M549 207h1M572 207h1M594 207h1M616 207h1M638 207h1M660 207h1M683 207h1M705 207h1M727 207h1M749 207h1M772 207h1M794 207h1M816 207h1M838 207h1M860 207h1M883 207h1M905 207h1M927 207h1M949 207h1M972 207h1M994 207h1M1016 207h1M1038 207h1M1060 207h1M1083 207h1M1105 207h1M1127 207h1M1149 207h1M1172 207h1M16 229h1M38 229h1M60 229h1M83 229h1M105 229h1M127 229h1M149 229h1M172 229h1M194 229h1M216 229h1M238 229h1M260 229h1M283 229h1M305 229h1M327 229h1M349 229h1M372 229h1M394 229h1M416 229h1M438 229h1M460 229h1M483 229h1M505 229h1M527 229h1M549 229h1M572 229h1M594 229h1M616 229h1M638 229h1M660 229h1M683 229h1M705 229h1M727 229h1M749 229h1M772 229h1M794 229h1M816 229h1M838 229h1M860 229h1M883 229h1M905 229h1M927 229h1M949 229h1M972 229h1M994 229h1M1016 229h1M1038 229h1M1060 229h1M1083 229h1M1105 229h1M1127 229h1M1149 229h1M1172 229h1M16 251h1M38 251h1M60 251h1M83 251h1M105 251h1M127 251h1M149 251h1M172 251h1M194 251h1M216 251h1M238 251h1M260 251h1M283 251h1M305 251h1M327 251h1M349 251h1M372 251h1M394 251h1M416 251h1M438 251h1M460 251h1M483 251h1M505 251h1M527 251h1M549 251h1M572 251h1M594 251h1M616 251h1M638 251h1M660 251h1M683 251h1M705 251h1M727 251h1M749 251h1M772 251h1M794 251h1M816 251h1M838 251h1M860 251h1M883 251h1M905 251h1M927 251h1M949 251h1M972 251h1M994 251h1M1016 251h1M1038 251h1M1060 251h1M1083 251h1M1105 251h1M1127 251h1M1149 251h1M1172 251h1M16 273h1M38 273h1M60 273h1M83 273h1M105 273h1M127 273h1M149 273h1M172 273h1M194 273h1M216 273h1M238 273h1M260 273h1M283 273h1M305 273h1M327 273h1M349 273h1M372 273h1M394 273h1M416 273h1M438 273h1M460 273h1M483 273h1M505 273h1M527 273h1M549 273h1M572 273h1M594 273h1M616 273h1M638 273h1M660 273h1M683 273h1M705 273h1M727 273h1M749 273h1M772 273h1M794 273h1M816 273h1M838 273h1M860 273h1M883 273h1M905 273h1M927 273h1M949 273h1M972 273h1M994 273h1M1016 273h1M1038 273h1M1060 273h1M1083 273h1M1105 273h1M1127 273h1M1149 273h1M1172 273h1M16 296h1M38 296h1M60 296h1M83 296h1M105 296h1M127 296h1M149 296h1M172 296h1M194 296h1M216 296h1M238 296h1M260 296h1M283 296h1M305 296h1M327 296h1M349 296h1M372 296h1M394 296h1M416 296h1M438 296h1M460 296h1M483 296h1M505 296h1M527 296h1M549 296h1M572 296h1M594 296h1M616 296h1M638 296h1M660 296h1M683 296h1M705 296h1M727 296h1M749 296h1M772 296h1M794 296h1M816 296h1M838 296h1M860 296h1M883 296h1M905 296h1M927 296h1M949 296h1M972 296h1M994 296h1M1016 296h1M1038 296h1M1060 296h1M1083 296h1M1105 296h1M1127 296h1M1149 296h1M1172 296h1M16 318h1M38 318h1M60 318h1M83 318h1M105 318h1M127 318h1M149 318h1M172 318h1M194 318h1M216 318h1M238 318h1M260 318h1M283 318h1M305 318h1M327 318h1M349 318h1M372 318h1M394 318h1M416 318h1M438 318h1M460 318h1M483 318h1M505 318h1M527 318h1M549 318h1M572 318h1M594 318h1M616 318h1M638 318h1M660 318h1M683 318h1M705 318h1M727 318h1M749 318h1M772 318h1M794 318h1M816 318h1M838 318h1M860 318h1M883 318h1M905 318h1M927 318h1M949 318h1M972 318h1M994 318h1M1016 318h1M1038 318h1M1060 318h1M1083 318h1M1105 318h1M1127 318h1M1149 318h1M1172 318h1M16 340h1M38 340h1M60 340h1M83 340h1M105 340h1M127 340h1M149 340h1M172 340h1M194 340h1M216 340h1M238 340h1M260 340h1M283 340h1M305 340h1M327 340h1M349 340h1M372 340h1M394 340h1M416 340h1M438 340h1M460 340h1M483 340h1M505 340h1M527 340h1M549 340h1M572 340h1M594 340h1M616 340h1M638 340h1M660 340h1M683 340h1M705 340h1M727 340h1M749 340h1M772 340h1M794 340h1M816 340h1M838 340h1M860 340h1M883 340h1M905 340h1M927 340h1M949 340h1M972 340h1M994 340h1M1016 340h1M1038 340h1M1060 340h1M1083 340h1M1105 340h1M1127 340h1M1149 340h1M1172 340h1M16 362h1M38 362h1M60 362h1M83 362h1M105 362h1M127 362h1M149 362h1M172 362h1M194 362h1M216 362h1M238 362h1M260 362h1M283 362h1M305 362h1M327 362h1M349 362h1M372 362h1M394 362h1M416 362h1M438 362h1M460 362h1M483 362h1M505 362h1M527 362h1M549 362h1M572 362h1M594 362h1M616 362h1M638 362h1M660 362h1M683 362h1M705 362h1M727 362h1M749 362h1M772 362h1M794 362h1M816 362h1M838 362h1M860 362h1M883 362h1M905 362h1M927 362h1M949 362h1M972 362h1M994 362h1M1016 362h1M1038 362h1M1060 362h1M1083 362h1M1105 362h1M1127 362h1M1149 362h1M1172 362h1M16 384h1M38 384h1M60 384h1M83 384h1M105 384h1M127 384h1M149 384h1M172 384h1M194 384h1M216 384h1M238 384h1M260 384h1M283 384h1M305 384h1M327 384h1M349 384h1M372 384h1M394 384h1M416 384h1M438 384h1M460 384h1M483 384h1M505 384h1M527 384h1M549 384h1M572 384h1M594 384h1M616 384h1M638 384h1M660 384h1M683 384h1M705 384h1M727 384h1M749 384h1M772 384h1M794 384h1M816 384h1M838 384h1M860 384h1M883 384h1M905 384h1M927 384h1M949 384h1M972 384h1M994 384h1M1016 384h1M1038 384h1M1060 384h1M1083 384h1M1105 384h1M1127 384h1M1149 384h1M1172 384h1M16 407h1M38 407h1M60 407h1M83 407h1M105 407h1M127 407h1M149 407h1M172 407h1M194 407h1M216 407h1M238 407h1M260 407h1M283 407h1M305 407h1M327 407h1M349 407h1M372 407h1M394 407h1M416 407h1M438 407h1M460 407h1M483 407h1M505 407h1M527 407h1M549 407h1M572 407h1M594 407h1M616 407h1M638 407h1M660 407h1M683 407h1M705 407h1M727 407h1M749 407h1M772 407h1M794 407h1M816 407h1M838 407h1M860 407h1M883 407h1M905 407h1M927 407h1M949 407h1M972 407h1M994 407h1M1016 407h1M1038 407h1M1060 407h1M1083 407h1M1105 407h1M1127 407h1M1149 407h1M1172 407h1M16 429h1M38 429h1M60 429h1M83 429h1M105 429h1M127 429h1M149 429h1M172 429h1M194 429h1M216 429h1M238 429h1M260 429h1M283 429h1M305 429h1M327 429h1M349 429h1M372 429h1M394 429h1M416 429h1M438 429h1M460 429h1M483 429h1M505 429h1M527 429h1M549 429h1M572 429h1M594 429h1M616 429h1M638 429h1M660 429h1M683 429h1M705 429h1M727 429h1M749 429h1M772 429h1M794 429h1M816 429h1M838 429h1M860 429h1M883 429h1M905 429h1M927 429h1M949 429h1M972 429h1M994 429h1M1016 429h1M1038 429h1M1060 429h1M1083 429h1M1105 429h1M1127 429h1M1149 429h1M1172 429h1M16 451h1M38 451h1M60 451h1M83 451h1M105 451h1M127 451h1M149 451h1M172 451h1M194 451h1M216 451h1M238 451h1M260 451h1M283 451h1M305 451h1M327 451h1M349 451h1M372 451h1M394 451h1M416 451h1M438 451h1M460 451h1M483 451h1M505 451h1M527 451h1M549 451h1M572 451h1M594 451h1M616 451h1M638 451h1M660 451h1M683 451h1M705 451h1M727 451h1M749 451h1M772 451h1M794 451h1M816 451h1M838 451h1M860 451h1M883 451h1M905 451h1M927 451h1M949 451h1M972 451h1M994 451h1M1016 451h1M1038 451h1M1060 451h1M1083 451h1M1105 451h1M1127 451h1M1149 451h1M1172 451h1M16 473h1M38 473h1M60 473h1M83 473h1M105 473h1M127 473h1M149 473h1M172 473h1M194 473h1M216 473h1M238 473h1M260 473h1M283 473h1M305 473h1M327 473h1M349 473h1M372 473h1M394 473h1M416 473h1M438 473h1M460 473h1M483 473h1M505 473h1M527 473h1M549 473h1M572 473h1M594 473h1M616 473h1M638 473h1M660 473h1M683 473h1M705 473h1M727 473h1M749 473h1M772 473h1M794 473h1M816 473h1M838 473h1M860 473h1M883 473h1M905 473h1M927 473h1M949 473h1M972 473h1M994 473h1M1016 473h1M1038 473h1M1060 473h1M1083 473h1M1105 473h1M1127 473h1M1149 473h1M1172 473h1M16 496h1M38 496h1M60 496h1M83 496h1M105 496h1M127 496h1M149 496h1M172 496h1M194 496h1M216 496h1M238 496h1M260 496h1M283 496h1M305 496h1M327 496h1M349 496h1M372 496h1M394 496h1M416 496h1M438 496h1M460 496h1M483 496h1M505 496h1M527 496h1M549 496h1M572 496h1M594 496h1M616 496h1M638 496h1M660 496h1M683 496h1M705 496h1M727 496h1M749 496h1M772 496h1M794 496h1M816 496h1M838 496h1M860 496h1M883 496h1M905 496h1M927 496h1M949 496h1M972 496h1M994 496h1M1016 496h1M1038 496h1M1060 496h1M1083 496h1M1105 496h1M1127 496h1M1149 496h1M1172 496h1M16 518h1M38 518h1M60 518h1M83 518h1M105 518h1M127 518h1M149 518h1M172 518h1M194 518h1M216 518h1M238 518h1M260 518h1M283 518h1M305 518h1M327 518h1M349 518h1M372 518h1M394 518h1M416 518h1M438 518h1M460 518h1M483 518h1M505 518h1M527 518h1M549 518h1M572 518h1M594 518h1M616 518h1M638 518h1M660 518h1M683 518h1M705 518h1M727 518h1M749 518h1M772 518h1M794 518h1M816 518h1M838 518h1M860 518h1M883 518h1M905 518h1M927 518h1M949 518h1M972 518h1M994 518h1M1016 518h1M1038 518h1M1060 518h1M1083 518h1M1105 518h1M1127 518h1M1149 518h1M1172 518h1M16 540h1M38 540h1M60 540h1M83 540h1M105 540h1M127 540h1M149 540h1M172 540h1M194 540h1M216 540h1M238 540h1M260 540h1M283 540h1M305 540h1M327 540h1M349 540h1M372 540h1M394 540h1M416 540h1M438 540h1M460 540h1M483 540h1M505 540h1M527 540h1M549 540h1M572 540h1M594 540h1M616 540h1M638 540h1M660 540h1M683 540h1M705 540h1M727 540h1M749 540h1M772 540h1M794 540h1M816 540h1M838 540h1M860 540h1M883 540h1M905 540h1M927 540h1M949 540h1M972 540h1M994 540h1M1016 540h1M1038 540h1M1060 540h1M1083 540h1M1105 540h1M1127 540h1M1149 540h1M1172 540h1M16 562h1M38 562h1M60 562h1M83 562h1M105 562h1M127 562h1M149 562h1M172 562h1M194 562h1M216 562h1M238 562h1M260 562h1M283 562h1M305 562h1M327 562h1M349 562h1M372 562h1M394 562h1M416 562h1M438 562h1M460 562h1M483 562h1M505 562h1M527 562h1M549 562h1M572 562h1M594 562h1M616 562h1M638 562h1M660 562h1M683 562h1M705 562h1M727 562h1M749 562h1M772 562h1M794 562h1M816 562h1M838 562h1M860 562h1M883 562h1M905 562h1M927 562h1M949 562h1M972 562h1M994 562h1M1016 562h1M1038 562h1M1060 562h1M1083 562h1M1105 562h1M1127 562h1M1149 562h1M1172 562h1M16 584h1M38 584h1M60 584h1M83 584h1M105 584h1M127 584h1M149 584h1M172 584h1M194 584h1M216 584h1M238 584h1M260 584h1M283 584h1M305 584h1M327 584h1M349 584h1M372 584h1M394 584h1M416 584h1M438 584h1M460 584h1M483 584h1M505 584h1M527 584h1M549 584h1M572 584h1M594 584h1M616 584h1M638 584h1M660 584h1M683 584h1M705 584h1M727 584h1M749 584h1M772 584h1M794 584h1M816 584h1M838 584h1M860 584h1M883 584h1M905 584h1M927 584h1M949 584h1M972 584h1M994 584h1M1016 584h1M1038 584h1M1060 584h1M1083 584h1M1105 584h1M1127 584h1M1149 584h1M1172 584h1M16 607h1M38 607h1M60 607h1M83 607h1M105 607h1M127 607h1M149 607h1M172 607h1M194 607h1M216 607h1M238 607h1M260 607h1M283 607h1M305 607h1M327 607h1M349 607h1M372 607h1M394 607h1M416 607h1M438 607h1M460 607h1M483 607h1M505 607h1M527 607h1M549 607h1M572 607h1M594 607h1M616 607h1M638 607h1M660 607h1M683 607h1M705 607h1M727 607h1M749 607h1M772 607h1M794 607h1M816 607h1M838 607h1M860 607h1M883 607h1M905 607h1M927 607h1M949 607h1M972 607h1M994 607h1M1016 607h1M1038 607h1M1060 607h1M1083 607h1M1105 607h1M1127 607h1M1149 607h1M1172 607h1M16 629h1M38 629h1M60 629h1M83 629h1M105 629h1M127 629h1M149 629h1M172 629h1M194 629h1M216 629h1M238 629h1M260 629h1M283 629h1M305 629h1M327 629h1M349 629h1M372 629h1M394 629h1M416 629h1M438 629h1M460 629h1M483 629h1M505 629h1M527 629h1M549 629h1M572 629h1M594 629h1M616 629h1M638 629h1M660 629h1M683 629h1M705 629h1M727 629h1M749 629h1M772 629h1M794 629h1M816 629h1M838 629h1M860 629h1M883 629h1M905 629h1M927 629h1M949 629h1M972 629h1M994 629h1M1016 629h1M1038 629h1M1060 629h1M1083 629h1M1105 629h1M1127 629h1M1149 629h1M1172 629h1M16 651h1M38 651h1M60 651h1M83 651h1M105 651h1M127 651h1M149 651h1M172 651h1M194 651h1M216 651h1M238 651h1M260 651h1M283 651h1M305 651h1M327 651h1M349 651h1M372 651h1M394 651h1M416 651h1M438 651h1M460 651h1M483 651h1M505 651h1M527 651h1M549 651h1M572 651h1M594 651h1M616 651h1M638 651h1M660 651h1M683 651h1M705 651h1M727 651h1M749 651h1M772 651h1M794 651h1M816 651h1M838 651h1M860 651h1M883 651h1M905 651h1M927 651h1M949 651h1M972 651h1M994 651h1M1016 651h1M1038 651h1M1060 651h1M1083 651h1M1105 651h1M1127 651h1M1149 651h1M1172 651h1M16 673h1M38 673h1M60 673h1M83 673h1M105 673h1M127 673h1M149 673h1M172 673h1M194 673h1M216 673h1M238 673h1M260 673h1M283 673h1M305 673h1M327 673h1M349 673h1M372 673h1M394 673h1M416 673h1M438 673h1M460 673h1M483 673h1M505 673h1M527 673h1M549 673h1M572 673h1M594 673h1M616 673h1M638 673h1M660 673h1M683 673h1M705 673h1M727 673h1M749 673h1M772 673h1M794 673h1M816 673h1M838 673h1M860 673h1M883 673h1M905 673h1M927 673h1M949 673h1M972 673h1M994 673h1M1016 673h1M1038 673h1M1060 673h1M1083 673h1M1105 673h1M1127 673h1M1149 673h1M1172 673h1M16 696h1M38 696h1M60 696h1M83 696h1M105 696h1M127 696h1M149 696h1M172 696h1M194 696h1M216 696h1M238 696h1M260 696h1M283 696h1M305 696h1M327 696h1M349 696h1M372 696h1M394 696h1M416 696h1M438 696h1M460 696h1M483 696h1M505 696h1M527 696h1M549 696h1M572 696h1M594 696h1M616 696h1M638 696h1M660 696h1M683 696h1M705 696h1M727 696h1M749 696h1M772 696h1M794 696h1M816 696h1M838 696h1M860 696h1M883 696h1M905 696h1M927 696h1M949 696h1M972 696h1M994 696h1M1016 696h1M1038 696h1M1060 696h1M1083 696h1M1105 696h1M1127 696h1M1149 696h1M1172 696h1M16 718h1M38 718h1M60 718h1M83 718h1M105 718h1M127 718h1M149 718h1M172 718h1M194 718h1M216 718h1M238 718h1M260 718h1M283 718h1M305 718h1M327 718h1M349 718h1M372 718h1M394 718h1M416 718h1M438 718h1M460 718h1M483 718h1M505 718h1M527 718h1M549 718h1M572 718h1M594 718h1M616 718h1M638 718h1M660 718h1M683 718h1M705 718h1M727 718h1M749 718h1M772 718h1M794 718h1M816 718h1M838 718h1M860 718h1M883 718h1M905 718h1M927 718h1M949 718h1M972 718h1M994 718h1M1016 718h1M1038 718h1M1060 718h1M1083 718h1M1105 718h1M1127 718h1M1149 718h1M1172 718h1M16 740h1M38 740h1M60 740h1M83 740h1M105 740h1M127 740h1M149 740h1M172 740h1M194 740h1M216 740h1M238 740h1M260 740h1M283 740h1M305 740h1M327 740h1M349 740h1M372 740h1M394 740h1M416 740h1M438 740h1M460 740h1M483 740h1M505 740h1M527 740h1M549 740h1M572 740h1M594 740h1M616 740h1M638 740h1M660 740h1M683 740h1M705 740h1M727 740h1M749 740h1M772 740h1M794 740h1M816 740h1M838 740h1M860 740h1M883 740h1M905 740h1M927 740h1M949 740h1M972 740h1M994 740h1M1016 740h1M1038 740h1M1060 740h1M1083 740h1M1105 740h1M1127 740h1M1149 740h1M1172 740h1M16 762h1M38 762h1M60 762h1M83 762h1M105 762h1M127 762h1M149 762h1M172 762h1M194 762h1M216 762h1M238 762h1M260 762h1M283 762h1M305 762h1M327 762h1M349 762h1M372 762h1M394 762h1M416 762h1M438 762h1M460 762h1M483 762h1M505 762h1M527 762h1M549 762h1M572 762h1M594 762h1M616 762h1M638 762h1M660 762h1M683 762h1M705 762h1M727 762h1M749 762h1M772 762h1M794 762h1M816 762h1M838 762h1M860 762h1M883 762h1M905 762h1M927 762h1M949 762h1M972 762h1M994 762h1M1016 762h1M1038 762h1M1060 762h1M1083 762h1M1105 762h1M1127 762h1M1149 762h1M1172 762h1" stroke="#8c8c8c" stroke-width="1" transform="translate(0 .5)" shape-rendering="crispEdges"/>
<polygon points="138,130 493.4,130 493.4,272.3 660.4,272.3 660.4,130 983,130 983,658 138,658" fill="#840000"/>
<rect x="856" y="130.6" width="126.8" height="231.3" fill="#008400"/>
<rect x="786" y="130.3" width="75" height="41.7" fill="#008400"/>
<rect x="823.3" y="210.4" width="37.7" height="27.7" fill="#008400" rx="3"/>
<rect x="786" y="248" width="75.8" height="46" fill="#008400"/>
<rect x="823.3" y="331.4" width="55.6" height="29.6" fill="#008400" rx="3"/>
<polygon points="401.3,205 418.3,187 432.6,187 432.6,185.3 476.5,185.3 476.5,130.6 493.4,130.6 493.4,272.3 547.1,272.3 547.1,342 544,344.4 434.4,344.4 434.4,300 425.4,300 425.4,287.5 418.3,287.5 401.3,272.3" fill="#008400"/>
<rect x="342.1" y="286.6" width="92.3" height="26" fill="#008400"/>
<rect x="342.1" y="130.6" width="6.3" height="181.4" fill="#008400"/>
<rect x="374.4" y="312.6" width="51.6" height="60.9" fill="#008400"/>
<rect x="426" y="318.9" width="8.4" height="25.5" fill="#008400"/>
<rect x="313.4" y="314" width="61" height="59.5" fill="#008400" rx="3"/>
<polygon points="300.5,318.5 384,318.5 386,368 386,408.5 379,418.3 379,426.8 400,426.8 400,449 420,449 444,473.2 407.4,473.2 407.4,552 421.5,552 421.5,586 300,586 300,566 324.8,545 324.8,398 300.5,398" fill="#008400"/>
<rect x="206.6" y="322" width="13.4" height="44" fill="#008400"/>
<rect x="259" y="366" width="61" height="13" fill="#008400"/>
<rect x="259.6" y="450" width="36.4" height="70" fill="#008400"/>
<polyline points="197,317 197,257 192,248.6 168,248.6 165.2,246 165.2,222 168,219 206,219 220,205 220,163 223,160.2 267,160.2 269.7,163 269.7,263 259.3,274 259.3,314" fill="none" stroke="#008400" stroke-width="4.6" stroke-linecap="round" stroke-linejoin="round"/>
<polyline points="176,365 151.8,365 151.8,321.2 207.4,321.2 207.4,370" fill="none" stroke="#008400" stroke-width="4.5" stroke-linecap="round" stroke-linejoin="round"/>
<polyline points="209,366 209,438.4 257.5,438.4 257.5,530" fill="none" stroke="#008400" stroke-width="6" stroke-linecap="butt" stroke-linejoin="round"/>
<polyline points="175.9,365 175.9,530.2 258,530.2" fill="none" stroke="#008400" stroke-width="6" stroke-linecap="butt" stroke-linejoin="round"/>
<polyline points="209.6,321.5 217.7,329 217.7,362 221,366.4 302.8,366.4 302.8,320.6 263.4,320.6" fill="none" stroke="#008400" stroke-width="4" stroke-linecap="round" stroke-linejoin="round"/>
<rect x="265" y="378.3" width="38.7" height="20.4" fill="#008400" rx="4"/>
<rect x="514.5" y="356.9" width="59.2" height="57.1" rx="4" fill="none" stroke="#008400" stroke-width="4.4"/>
<polyline points="387.8,440.6 423,440.6 459,476.2 534,476.2 544,466 544,414" fill="none" stroke="#008400" stroke-width="27.4" stroke-linecap="butt" stroke-linejoin="miter"/>
<polyline points="693.4,300 693.4,462 716.8,485.4 766,485.4" fill="none" stroke="#008400" stroke-width="24.4" stroke-linecap="butt" stroke-linejoin="miter"/>
<rect x="662.4" y="275.3" width="43.2" height="43.6" fill="#008400" rx="4"/>
<polygon points="767,463 785,446.7 860,446.7 876,463 860,479 785,479" fill="#008400"/>
<polyline points="789,431.4 860,431.4" fill="none" stroke="#008400" stroke-width="4.8" stroke-linecap="butt" stroke-linejoin="round"/>
<polyline points="766,494.8 860,494.8" fill="none" stroke="#008400" stroke-width="6" stroke-linecap="butt" stroke-linejoin="round"/>
<polyline points="378.2,366 378.2,406 359,424.5" fill="none" stroke="#008400" stroke-width="14" stroke-linecap="butt" stroke-linejoin="round"/>
<clipPath id="h1"><rect x="479" y="130.6" width="14.4" height="141"/></clipPath><g clip-path="url(#h1)" stroke="#0a4a0a" stroke-width="1">
<path d="M470 136.0 l30 -22.5"/>
<path d="M470 147.5 l30 -22.5"/>
<path d="M470 159.0 l30 -22.5"/>
<path d="M470 170.5 l30 -22.5"/>
<path d="M470 182.0 l30 -22.5"/>
<path d="M470 193.5 l30 -22.5"/>
<path d="M470 205.0 l30 -22.5"/>
<path d="M470 216.5 l30 -22.5"/>
<path d="M470 228.0 l30 -22.5"/>
<path d="M470 239.5 l30 -22.5"/>
<path d="M470 251.0 l30 -22.5"/>
<path d="M470 262.5 l30 -22.5"/>
<path d="M470 274.0 l30 -22.5"/>
<path d="M470 285.5 l30 -22.5"/>
<path d="M470 297.0 l30 -22.5"/>
<path d="M470 308.5 l30 -22.5"/>
</g>
<clipPath id="h2"><path d="M861.8 130.6H982.8V361.9H893.2V345.7H966V149.8H861.8z M878.9 209.5h32.2v11.6h-32.2z"/></clipPath><g clip-path="url(#h2)" stroke="#0a4a0a" stroke-width="1">
<path d="M470 400 l400 -300"/>
<path d="M485 400 l400 -300"/>
<path d="M500 400 l400 -300"/>
<path d="M515 400 l400 -300"/>
<path d="M530 400 l400 -300"/>
<path d="M545 400 l400 -300"/>
<path d="M560 400 l400 -300"/>
<path d="M575 400 l400 -300"/>
<path d="M590 400 l400 -300"/>
<path d="M605 400 l400 -300"/>
<path d="M620 400 l400 -300"/>
<path d="M635 400 l400 -300"/>
<path d="M650 400 l400 -300"/>
<path d="M665 400 l400 -300"/>
<path d="M680 400 l400 -300"/>
<path d="M695 400 l400 -300"/>
<path d="M710 400 l400 -300"/>
<path d="M725 400 l400 -300"/>
<path d="M740 400 l400 -300"/>
<path d="M755 400 l400 -300"/>
<path d="M770 400 l400 -300"/>
<path d="M785 400 l400 -300"/>
<path d="M800 400 l400 -300"/>
<path d="M815 400 l400 -300"/>
<path d="M830 400 l400 -300"/>
<path d="M845 400 l400 -300"/>
<path d="M860 400 l400 -300"/>
<path d="M875 400 l400 -300"/>
<path d="M890 400 l400 -300"/>
<path d="M905 400 l400 -300"/>
<path d="M920 400 l400 -300"/>
<path d="M935 400 l400 -300"/>
<path d="M950 400 l400 -300"/>
<path d="M965 400 l400 -300"/>
<path d="M980 400 l400 -300"/>
<path d="M995 400 l400 -300"/>
<path d="M1010 400 l400 -300"/>
<path d="M1025 400 l400 -300"/>
<path d="M1040 400 l400 -300"/>
<path d="M1055 400 l400 -300"/>
<path d="M1070 400 l400 -300"/>
<path d="M1085 400 l400 -300"/>
<path d="M1100 400 l400 -300"/>
<path d="M1115 400 l400 -300"/>
<path d="M1130 400 l400 -300"/>
<path d="M1145 400 l400 -300"/>
<path d="M1160 400 l400 -300"/>
<path d="M1175 400 l400 -300"/>
<path d="M1190 400 l400 -300"/>
<path d="M1205 400 l400 -300"/>
</g>
<polygon points="435.5,218.4 475.9,218.4 475.9,268.4 483.9,276 541,276 541,337.7 471.8,337.7 471.8,307.4 435.5,307.4" fill="#840000"/>
<rect x="439.6" y="318.2" width="20.1" height="18.8" fill="#840000" rx="4"/>
<polyline points="420,327.8 440,327.8" fill="none" stroke="#840000" stroke-width="4" stroke-linecap="butt" stroke-linejoin="round"/>
<polyline points="424.5,333 424.5,356" fill="none" stroke="#840000" stroke-width="3.4" stroke-linecap="butt" stroke-linejoin="round"/>
<rect x="387.8" y="322.4" width="32.2" height="11.6" fill="#840000" rx="3"/>
<rect x="387.8" y="352" width="32.2" height="11.7" fill="#840000" rx="3"/>
<polygon points="348.4,286 352,292 361.8,303.6 417,303.6 420.5,300 420.5,291 418.3,287.5 401.3,272.3 348.4,272.3" fill="#840000"/>
<rect x="317.9" y="318.9" width="52" height="49.2" fill="#840000"/>
<rect x="268.2" y="381.5" width="33.3" height="12.9" fill="#840000" rx="3"/>
<rect x="516.7" y="359.2" width="54.9" height="52.6" fill="#840000"/>
<polyline points="387.8,440.6 423,440.6 459,476.2 534,476.2 544,466 544,414" fill="none" stroke="#840000" stroke-width="18" stroke-linecap="butt" stroke-linejoin="miter"/>
<rect x="667.8" y="280.8" width="32.2" height="32.7" fill="#840000"/>
<polyline points="693.4,300 693.4,462 716.8,485.4 877.2,485.4" fill="none" stroke="#840000" stroke-width="13" stroke-linecap="butt" stroke-linejoin="miter"/>
<polyline points="766,440.3 877.2,440.3" fill="none" stroke="#840000" stroke-width="12.9" stroke-linecap="butt" stroke-linejoin="round"/>
<rect x="790.5" y="131.5" width="65.1" height="34.1" fill="#840000"/>
<polyline points="840,157.7 926,157.7 950,181.5" fill="none" stroke="#840000" stroke-width="15.8" stroke-linecap="butt" stroke-linejoin="miter"/>
<polygon points="780,172.7 911.1,172.7 911.1,209.5 780,209.5" fill="#840000"/>
<rect x="917.4" y="175.4" width="52" height="54.3" fill="#840000"/>
<rect x="827.8" y="215.7" width="31.2" height="18" fill="#840000" rx="3"/>
<polyline points="850,224.7 872,224.7 887.8,241 887.8,347" fill="none" stroke="#840000" stroke-width="17.9" stroke-linecap="butt" stroke-linejoin="miter"/>
<rect x="790.5" y="254.3" width="66.8" height="35.9" fill="#840000"/>
<polygon points="780,296.5 874.4,296.5 874.4,330.5 780,330.5" fill="#840000"/>
<rect x="827.8" y="337.7" width="65.4" height="17.9" fill="#840000" rx="4"/>
<polygon points="896.8,281.3 909.3,293.8 918,293.8 918,310.8 909.3,310.8 896.8,323.3" fill="#840000"/>
<rect x="917.4" y="275.8" width="52.9" height="53.8" fill="#840000"/>
<rect x="780" y="361.9" width="76" height="4.1" fill="#840000"/>
<polyline points="301,388 322,388 333,399.8 333,546 311.5,569 311.5,605" fill="none" stroke="#840000" stroke-width="5.8" stroke-linecap="butt" stroke-linejoin="round"/>
<polyline points="389,357.8 383.5,357.8 378.2,363.5 378.2,406 359,424.5 359,474 343,489 343,575" fill="none" stroke="#840000" stroke-width="5.8" stroke-linecap="butt" stroke-linejoin="round"/>
<polyline points="387.8,485.8 366,485.8 357.7,494 357.7,546 377.1,565.6 377.1,641" fill="none" stroke="#840000" stroke-width="5.8" stroke-linecap="butt" stroke-linejoin="round"/>
<polyline points="411,581.7 411.5,641" fill="none" stroke="#840000" stroke-width="5.8" stroke-linecap="butt" stroke-linejoin="round"/>
<rect x="297" y="591.4" width="129" height="63.6" fill="#008400" rx="8"/>
<rect x="297" y="591.4" width="29" height="28" fill="#008400" rx="8"/>
<rect x="329.3" y="591.4" width="29" height="28" fill="#008400" rx="8"/>
<rect x="362.6" y="591.4" width="29" height="28" fill="#008400" rx="8"/>
<rect x="397" y="591.4" width="29" height="28" fill="#008400" rx="8"/>
<rect x="297" y="626.9" width="29" height="28" fill="#008400" rx="8"/>
<rect x="329.3" y="626.9" width="29" height="28" fill="#008400" rx="8"/>
<rect x="362.6" y="626.9" width="29" height="28" fill="#008400" rx="8"/>
<rect x="397" y="626.9" width="29" height="28" fill="#008400" rx="8"/>
<rect x="429.3" y="591.4" width="29" height="28" fill="#008400" rx="8"/>
<rect x="301.3" y="595.8" width="20.4" height="19.2" fill="#840000" rx="6"/>
<rect x="333.6" y="595.8" width="20.4" height="19.2" fill="#840000" rx="6"/>
<rect x="366.9" y="595.8" width="20.4" height="19.2" fill="#840000" rx="6"/>
<rect x="401.3" y="595.8" width="20.4" height="19.2" fill="#840000" rx="6"/>
<rect x="301.3" y="631.3" width="20.4" height="19.2" fill="#840000" rx="6"/>
<rect x="333.6" y="631.3" width="20.4" height="19.2" fill="#840000" rx="6"/>
<rect x="366.9" y="631.3" width="20.4" height="19.2" fill="#840000" rx="6"/>
<rect x="401.3" y="631.3" width="20.4" height="19.2" fill="#840000" rx="6"/>
<rect x="433.8" y="595.1" width="20" height="21.2" fill="#840000" rx="6.5"/>
<polyline points="377.1,565.6 377.1,641" fill="none" stroke="#840000" stroke-width="5.8" stroke-linecap="butt" stroke-linejoin="round"/>
<polyline points="411,581.7 411.5,641" fill="none" stroke="#840000" stroke-width="5.8" stroke-linecap="butt" stroke-linejoin="round"/>
<polyline points="311.5,590 311.5,605" fill="none" stroke="#840000" stroke-width="5.8" stroke-linecap="butt" stroke-linejoin="round"/>
<polyline points="311.5,605.4 343.8,605.4" fill="none" stroke="#840000" stroke-width="5" stroke-linecap="butt" stroke-linejoin="round"/>
<polyline points="311.5,640.9 343.8,640.9" fill="none" stroke="#840000" stroke-width="5" stroke-linecap="butt" stroke-linejoin="round"/>
<polyline points="411.5,605.4 443.8,605.4" fill="none" stroke="#840000" stroke-width="5" stroke-linecap="butt" stroke-linejoin="round"/>
<rect x="298" y="611.8" width="127" height="5.2" fill="#000"/>
<rect x="298" y="632.9" width="127" height="4.5" fill="#000"/>
<rect x="328" y="620" width="34" height="7" fill="#000"/>
<polyline points="359.9,588 359.9,654" fill="none" stroke="#008484" stroke-width="3" stroke-linecap="butt" stroke-linejoin="round"/>
<polyline points="394.4,588 394.4,600" fill="none" stroke="#008484" stroke-width="3.4" stroke-linecap="butt" stroke-linejoin="round"/>
<polyline points="394.4,618 394.4,632" fill="none" stroke="#008484" stroke-width="3.4" stroke-linecap="butt" stroke-linejoin="round"/>
<rect x="388" y="592.5" width="12" height="7" fill="#008484" rx="2"/>
<rect x="389" y="617.5" width="10" height="5.5" fill="#008484" rx="2"/>
<rect x="388" y="626.5" width="12" height="6" fill="#008484" rx="2"/>
<rect x="301.6" y="594.4" width="19.8" height="22.6" fill="#840000" rx="6.5"/>
<rect x="333.9" y="594.4" width="19.8" height="22.6" fill="#840000" rx="6.5"/>
<rect x="367.2" y="594.4" width="19.8" height="22.6" fill="#840000" rx="6.5"/>
<rect x="401.6" y="594.4" width="19.8" height="22.6" fill="#840000" rx="6.5"/>
<rect x="301.6" y="630.6" width="19.8" height="21.2" fill="#840000" rx="6.5"/>
<rect x="333.9" y="630.6" width="19.8" height="21.2" fill="#840000" rx="6.5"/>
<rect x="367.2" y="630.6" width="19.8" height="21.2" fill="#840000" rx="6.5"/>
<rect x="401.6" y="630.6" width="19.8" height="21.2" fill="#840000" rx="6.5"/>
<polyline points="311.5,605.4 343.8,605.4" fill="none" stroke="#840000" stroke-width="5.4" stroke-linecap="butt" stroke-linejoin="round"/>
<polyline points="311.5,640.9 343.8,640.9" fill="none" stroke="#840000" stroke-width="5.4" stroke-linecap="butt" stroke-linejoin="round"/>
<polyline points="377.1,600 377.1,641" fill="none" stroke="#840000" stroke-width="5.8" stroke-linecap="butt" stroke-linejoin="round"/>
<polyline points="411.5,600 411.5,641" fill="none" stroke="#840000" stroke-width="5.8" stroke-linecap="butt" stroke-linejoin="round"/>
<rect x="256.2" y="279.4" width="6.3" height="4.5" fill="#000"/>
<rect x="342" y="294.7" width="19" height="5.3" fill="#000"/>
<rect x="317.7" y="313.2" width="62.3" height="4.8" fill="#000"/>
<rect x="421" y="294.7" width="13.4" height="5.3" fill="#000"/>
<rect x="384.2" y="312.6" width="86.1" height="5.6" fill="#000"/>
<rect x="500" y="338.3" width="4.8" height="6.1" fill="#000"/>
<rect x="662.4" y="280.3" width="5.4" height="4.7" fill="#000"/>
<rect x="662.4" y="312.6" width="5.4" height="6.3" fill="#000"/>
<rect x="542" y="294" width="5.1" height="5" fill="#000"/>
<rect x="324.8" y="428.9" width="47.2" height="4.9" fill="#000"/>
<rect x="324.8" y="446.5" width="73.2" height="28.1" fill="#000"/>
<rect x="324.8" y="492.3" width="47.2" height="4.9" fill="#000"/>
<rect x="405.4" y="474" width="2.2" height="78" fill="#000"/>
<rect x="379.2" y="550.7" width="42.3" height="27.8" fill="#000"/>
<rect x="330" y="573.7" width="50" height="4.6" fill="#000"/>
<rect x="181" y="527.4" width="5" height="5.8" fill="#000"/>
<rect x="192" y="527.4" width="5" height="5.8" fill="#000"/>
<rect x="203" y="527.4" width="5" height="5.8" fill="#000"/>
<polygon points="205.8,460 222,460 228,470 228,506 216,510 205.8,510" fill="#000"/>
<polygon points="205.8,495 214,487 214,510 205.8,510" fill="#008400"/>
<rect x="786" y="140" width="4.5" height="32" fill="#000"/>
<rect x="809" y="167.3" width="19" height="4.7" fill="#000"/>
<rect x="786" y="258" width="4.5" height="36" fill="#000"/>
<rect x="808" y="248" width="19" height="6.3" fill="#000"/>
<rect x="808" y="290.2" width="19" height="3.8" fill="#000"/>
<rect x="982.8" y="130" width="4.2" height="528" fill="#000"/>
<rect x="422.2" y="516.1" width="26.9" height="31.5" fill="#000" rx="11"/>
<rect x="426.8" y="522.2" width="17.1" height="20" fill="#840000" rx="6"/>
<rect x="422.2" y="553.7" width="26.9" height="28.3" fill="#000" rx="11"/>
<rect x="427.6" y="557.6" width="17.7" height="20.7" fill="#840000" rx="6"/>
<polyline points="391.7,561 436,561" fill="none" stroke="#840000" stroke-width="5.6" stroke-linecap="butt" stroke-linejoin="round"/>
<polyline points="440.6,506 440.6,530" fill="none" stroke="#840000" stroke-width="6" stroke-linecap="butt" stroke-linejoin="round"/>
<rect x="437.5" y="547.6" width="6.2" height="6.1" fill="#008400"/>
<rect x="437.5" y="578.3" width="6.2" height="3.7" fill="#008400"/>
<polyline points="228,461 258,461" fill="none" stroke="#008400" stroke-width="2" stroke-linecap="butt" stroke-linejoin="round"/>
<polyline points="228,483.6 258,483.6" fill="none" stroke="#008400" stroke-width="3.4" stroke-linecap="butt" stroke-linejoin="round"/>
<polyline points="228,505.6 258,505.6" fill="none" stroke="#008400" stroke-width="3.4" stroke-linecap="butt" stroke-linejoin="round"/>
<polyline points="233.1,459.5 233.1,462.5" fill="none" stroke="#d6d6c4" stroke-width="1.2" stroke-linecap="butt" stroke-linejoin="round"/>
<polyline points="233.1,482.1 233.1,485.1" fill="none" stroke="#d6d6c4" stroke-width="1.2" stroke-linecap="butt" stroke-linejoin="round"/>
<polyline points="233.1,504.1 233.1,507.1" fill="none" stroke="#d6d6c4" stroke-width="1.2" stroke-linecap="butt" stroke-linejoin="round"/>
<polyline points="301,388 322,388 333,399.8 333,546 311.5,569 311.5,605" fill="none" stroke="#840000" stroke-width="5.8" stroke-linecap="butt" stroke-linejoin="round"/>
<polyline points="389,357.8 383.5,357.8 378.2,363.5 378.2,406 359,424.5 359,474 343,489 343,575" fill="none" stroke="#840000" stroke-width="5.8" stroke-linecap="butt" stroke-linejoin="round"/>
<polyline points="387.8,485.8 366,485.8 357.7,494 357.7,546 377.1,565.6 377.1,641" fill="none" stroke="#840000" stroke-width="5.8" stroke-linecap="butt" stroke-linejoin="round"/>
<polyline points="387.8,440.6 423,440.6 459,476.2" fill="none" stroke="#840000" stroke-width="18" stroke-linecap="butt" stroke-linejoin="miter"/>
<rect x="490.8" y="461.6" width="8" height="5.2" fill="#008484"/>
<rect x="498.8" y="461.6" width="6.2" height="5.2" fill="#000"/>
<rect x="518.5" y="461.6" width="4.5" height="5.2" fill="#000"/>
<rect x="480" y="485.4" width="19.7" height="4.5" fill="#008484"/>
<polygon points="499.7,489.9 503,485.4 511,485.4 507,489.9" fill="#000"/>
<rect x="466" y="461.6" width="8" height="5.2" fill="#008484"/>
<path d="M237 130.5q4-3.2 9-3.2h125q5 0 8 3.5" fill="none" stroke="#008484" stroke-width="2.4"/>
<polyline points="186,321.5 209,321.5" fill="none" stroke="#008484" stroke-width="4" stroke-linecap="butt" stroke-linejoin="round"/>
<polyline points="209.4,362 209.4,374" fill="none" stroke="#008484" stroke-width="5" stroke-linecap="butt" stroke-linejoin="round"/>
<polyline points="306.4,317 306.4,395" fill="none" stroke="#008484" stroke-width="3.6" stroke-linecap="butt" stroke-linejoin="round"/>
<polyline points="382,305 382,400" fill="none" stroke="#008484" stroke-width="3.6" stroke-linecap="butt" stroke-linejoin="round"/>
<polyline points="418.8,189.7 418.8,279" fill="none" stroke="#008484" stroke-width="2.4" stroke-linecap="butt" stroke-linejoin="round"/>
<polyline points="908.4,172 908.4,292" fill="none" stroke="#008484" stroke-width="2.6" stroke-linecap="butt" stroke-linejoin="round"/>
<polyline points="908.4,312 908.4,338" fill="none" stroke="#008484" stroke-width="2.6" stroke-linecap="butt" stroke-linejoin="round"/>
<polyline points="907,338.4 981.8,338.4" fill="none" stroke="#008484" stroke-width="3.8" stroke-linecap="butt" stroke-linejoin="round"/>
<polyline points="980,340.4 980,163.5" fill="none" stroke="#008484" stroke-width="4" stroke-linecap="butt" stroke-linejoin="round"/>
<polyline points="947,166 981.8,166" fill="none" stroke="#008484" stroke-width="5" stroke-linecap="butt" stroke-linejoin="round"/>
<rect x="914.7" y="133.3" width="60.9" height="24.2" fill="#008484" rx="11"/>
<polyline points="521,341 540,341 544,337 544,322" fill="none" stroke="#008484" stroke-width="5.8" stroke-linecap="round" stroke-linejoin="round"/>
<polyline points="436,310.5 470,310.5" fill="none" stroke="#008484" stroke-width="3" stroke-linecap="butt" stroke-linejoin="round"/>
<polyline points="438,343 462,343" fill="none" stroke="#008484" stroke-width="2.6" stroke-linecap="butt" stroke-linejoin="round"/>
<polyline points="336,397.6 374,397.6" fill="none" stroke="#008484" stroke-width="3.4" stroke-linecap="butt" stroke-linejoin="round"/>
<polyline points="360,659 520,659" fill="none" stroke="#008484" stroke-width="1.6" stroke-linecap="butt" stroke-linejoin="round"/>
<polyline points="132,387.5 97.5,387.5 97.5,580.2 132,580.2" fill="none" stroke="#008484" stroke-width="2.6" stroke-linecap="butt" stroke-linejoin="miter"/>
<polyline points="304.5,588 304.5,567 326,546" fill="none" stroke="#008484" stroke-width="3.2" stroke-linecap="round" stroke-linejoin="round"/>
<polyline points="311,563.5 385,563.5" fill="none" stroke="#008484" stroke-width="2.4" stroke-linecap="butt" stroke-linejoin="round"/>
<rect x="332" y="567.5" width="22" height="17.5" fill="none" stroke="#008484" stroke-width="2.6"/>
<text text-anchor="middle" font-size="22.3" fill="#008400" textLength="44" lengthAdjust="spacingAndGlyphs" font-weight="bold" transform="translate(945.5 145.6)" y="8">LED</text>
<text text-anchor="middle" font-size="18.2" fill="#008484" textLength="14" lengthAdjust="spacingAndGlyphs" font-weight="bold" transform="translate(882 146)" y="6.5">N</text>
<text text-anchor="middle" font-size="18.2" fill="#008484" textLength="20" lengthAdjust="spacingAndGlyphs" opacity=".9" transform="translate(407.5 265) rotate(-90)" y="6.5">D1</text>
<text text-anchor="middle" font-size="14" fill="#008484" textLength="44" lengthAdjust="spacingAndGlyphs" opacity=".45" transform="translate(822 484)" y="5">SW?</text>
<text text-anchor="middle" font-size="12.6" fill="#008484" textLength="26" lengthAdjust="spacingAndGlyphs" opacity=".9" transform="translate(338 484.5)" y="4.5">WW</text>
<text text-anchor="middle" font-size="12.6" fill="#008484" textLength="18" lengthAdjust="spacingAndGlyphs" opacity=".8" transform="translate(921 352.5)" y="4.5">TP</text>
<rect x="913" y="170.3" width="62" height="64.2" rx="4" fill="none" stroke="#2e5a08" stroke-width=".9"/>
<rect x="912.5" y="270.5" width="62.2" height="64.5" rx="4" fill="none" stroke="#2e5a08" stroke-width=".9"/>
<rect x="430.8" y="214.8" width="48.4" height="57.2" rx="4" fill="none" stroke="#2e5a08" stroke-width=".9"/>
<rect x="383.3" y="318.2" width="41.7" height="19.8" rx="4" fill="none" stroke="#2e5a08" stroke-width=".9"/>
<rect x="383.3" y="347.8" width="41.7" height="20.5" rx="4" fill="none" stroke="#2e5a08" stroke-width=".9"/>
<rect x="255.9" y="311.5" width="9.6" height="6.4" fill="#000"/>
<rect x="265" y="316" width="53" height="1.9" fill="#000"/>
<polyline points="229.3,123 229.3,130" fill="none" stroke="#d6d6c4" stroke-width="1" stroke-linecap="butt" stroke-linejoin="miter"/>
<polyline points="385.5,123 385.5,130" fill="none" stroke="#d6d6c4" stroke-width="1" stroke-linecap="butt" stroke-linejoin="miter"/>
<polyline points="416.5,123 416.5,130" fill="none" stroke="#d6d6c4" stroke-width="1" stroke-linecap="butt" stroke-linejoin="miter"/>
<polyline points="493.5,123 493.5,130" fill="none" stroke="#d6d6c4" stroke-width="1" stroke-linecap="butt" stroke-linejoin="miter"/>
<polyline points="217,208 217,159 219,157.6 229,157.6" fill="none" stroke="#d6d6c4" stroke-width="1" stroke-linecap="butt" stroke-linejoin="miter"/>
<polyline points="163,250 163,221" fill="none" stroke="#d6d6c4" stroke-width="1" stroke-linecap="butt" stroke-linejoin="miter"/>
<polyline points="149.6,318.9 171,318.9" fill="none" stroke="#d6d6c4" stroke-width="1" stroke-linecap="butt" stroke-linejoin="miter"/>
<polyline points="185,318.9 208,318.9" fill="none" stroke="#d6d6c4" stroke-width="1" stroke-linecap="butt" stroke-linejoin="miter"/>
<polyline points="152,368 174,368" fill="none" stroke="#d6d6c4" stroke-width="1" stroke-linecap="butt" stroke-linejoin="miter"/>
<polyline points="212,368 258,368" fill="none" stroke="#d6d6c4" stroke-width="1" stroke-linecap="butt" stroke-linejoin="miter"/>
<polyline points="416.5,189.7 416.5,279.9 434.4,279.9" fill="none" stroke="#d6d6c4" stroke-width="1.2" stroke-linecap="butt" stroke-linejoin="miter"/>
<polyline points="433.5,344 433.5,312.5 470.3,312.5" fill="none" stroke="#d6d6c4" stroke-width="1.2" stroke-linecap="butt" stroke-linejoin="miter"/>
<polyline points="465.8,312.5 465.8,344" fill="none" stroke="#d6d6c4" stroke-width="1.2" stroke-linecap="butt" stroke-linejoin="miter"/>
<polyline points="509.6,276 509.6,271.6 611.7,271.6" fill="none" stroke="#d6d6c4" stroke-width="1" stroke-linecap="butt" stroke-linejoin="miter"/>
<polyline points="500,338.3 500,344.4" fill="none" stroke="#d6d6c4" stroke-width="1" stroke-linecap="butt" stroke-linejoin="miter"/>
<polyline points="325.5,385.8 375,385.8" fill="none" stroke="#d6d6c4" stroke-width="1.4" stroke-linecap="butt" stroke-linejoin="miter"/>
<polyline points="433,430 433,471.8" fill="none" stroke="#d6d6c4" stroke-width="1" stroke-linecap="butt" stroke-linejoin="miter"/>
<polyline points="448.7,446 448.7,486" fill="none" stroke="#d6d6c4" stroke-width="1" stroke-linecap="butt" stroke-linejoin="miter"/>
<polyline points="855.6,140 861.8,140 861.8,172" fill="none" stroke="#d6d6c4" stroke-width="1" stroke-linecap="butt" stroke-linejoin="miter"/>
<polyline points="826,246.3 861.8,246.3 861.8,236" fill="none" stroke="#d6d6c4" stroke-width="1" stroke-linecap="butt" stroke-linejoin="miter"/>
<polyline points="857.3,258 861.5,258 861.5,294" fill="none" stroke="#d6d6c4" stroke-width="1" stroke-linecap="butt" stroke-linejoin="miter"/>
<polyline points="861.5,330.5 861.5,361" fill="none" stroke="#d6d6c4" stroke-width="1" stroke-linecap="butt" stroke-linejoin="miter"/>
<polyline points="303,586 423,586" fill="none" stroke="#d6d6c4" stroke-width="1.4" stroke-linecap="butt" stroke-linejoin="miter"/>
<polyline points="301.8,623.7 421,623.7" fill="none" stroke="#d6d6c4" stroke-width="1.4" stroke-linecap="butt" stroke-linejoin="miter"/>
<polyline points="327,592 327,655" fill="none" stroke="#d6d6c4" stroke-width="1" stroke-linecap="butt" stroke-linejoin="miter"/>
<polyline points="426.5,586 426.5,648" fill="none" stroke="#d6d6c4" stroke-width="1" stroke-linecap="butt" stroke-linejoin="miter"/>
<polyline points="751,485.4 751,497" fill="none" stroke="#d6d6c4" stroke-width="1.2" stroke-linecap="butt" stroke-linejoin="miter"/>
<polyline points="720.5,473.5 720.5,479" fill="none" stroke="#fff" stroke-width="1.6" stroke-linecap="butt" stroke-linejoin="miter"/>
<polyline points="720.5,491.8 720.5,497.8" fill="none" stroke="#fff" stroke-width="1.6" stroke-linecap="butt" stroke-linejoin="miter"/>
<polyline points="197,296 197,298.4" fill="none" stroke="#d6d6c4" stroke-width="5" stroke-linecap="butt" stroke-linejoin="miter"/>
<polyline points="138,373.3 92.3,373.3 92.3,595.7 138,595.7" fill="none" stroke="#bdbdbd" stroke-width="1.2" stroke-linecap="butt" stroke-linejoin="miter"/>
<polyline points="138,373.3 178,373.3" fill="none" stroke="#c8a890" stroke-width="1" stroke-linecap="butt" stroke-linejoin="miter"/>
<rect x="722" y="385.5" width="199" height="200" fill="none" stroke="#9a2a2a" stroke-width=".8" opacity=".55"/>
<rect x="462" y="565" width="95" height="60" fill="none" stroke="#9a2a2a" stroke-width=".8" opacity=".35"/>
<rect x="700" y="222" width="120" height="140" fill="none" stroke="#9a2a2a" stroke-width=".8" opacity=".3"/>
<circle cx="433.7" cy="505.8" r="10.5" fill="#000"/>
<circle cx="146.9" cy="159.6" r="7.1" fill="#d4d2cc"/>
<circle cx="146.9" cy="159.6" r="3.1" fill="#a67c22"/>
<circle cx="146.9" cy="188.9" r="7.1" fill="#d4d2cc"/>
<circle cx="146.9" cy="188.9" r="3.1" fill="#a67c22"/>
<circle cx="146.9" cy="215.7" r="7.1" fill="#d4d2cc"/>
<circle cx="146.9" cy="215.7" r="3.1" fill="#a67c22"/>
<circle cx="146.9" cy="241.7" r="7.1" fill="#d4d2cc"/>
<circle cx="146.9" cy="241.7" r="3.1" fill="#a67c22"/>
<circle cx="293.8" cy="241.8" r="7.1" fill="#d4d2cc"/>
<circle cx="293.8" cy="241.8" r="3.1" fill="#a67c22"/>
<circle cx="321.9" cy="241.8" r="7.1" fill="#d4d2cc"/>
<circle cx="321.9" cy="241.8" r="3.1" fill="#a67c22"/>
<circle cx="293.8" cy="262.6" r="7.1" fill="#d4d2cc"/>
<circle cx="293.8" cy="262.6" r="3.1" fill="#a67c22"/>
<circle cx="321.9" cy="262.6" r="7.1" fill="#d4d2cc"/>
<circle cx="321.9" cy="262.6" r="3.1" fill="#a67c22"/>
<circle cx="247.2" cy="291.6" r="7.1" fill="#d4d2cc"/>
<circle cx="247.2" cy="291.6" r="3.1" fill="#a67c22"/>
<circle cx="247.2" cy="306.7" r="7.1" fill="#d4d2cc"/>
<circle cx="247.2" cy="306.7" r="3.1" fill="#a67c22"/>
<circle cx="510.8" cy="329.6" r="7.1" fill="#d4d2cc"/>
<circle cx="510.8" cy="329.6" r="3.1" fill="#a67c22"/>
<circle cx="528" cy="329.6" r="7.1" fill="#d4d2cc"/>
<circle cx="528" cy="329.6" r="3.1" fill="#a67c22"/>
<circle cx="594.2" cy="335.9" r="7.1" fill="#d4d2cc"/>
<circle cx="594.2" cy="335.9" r="3.1" fill="#a67c22"/>
<circle cx="615.8" cy="335.9" r="7.1" fill="#d4d2cc"/>
<circle cx="615.8" cy="335.9" r="3.1" fill="#a67c22"/>
<circle cx="676.7" cy="292" r="7.1" fill="#d4d2cc"/>
<circle cx="676.7" cy="292" r="3.1" fill="#a67c22"/>
<circle cx="676.7" cy="306.8" r="7.1" fill="#d4d2cc"/>
<circle cx="676.7" cy="306.8" r="3.1" fill="#a67c22"/>
<circle cx="693.8" cy="140.8" r="7.1" fill="#d4d2cc"/>
<circle cx="693.8" cy="140.8" r="3.1" fill="#a67c22"/>
<circle cx="716" cy="140.8" r="7.1" fill="#d4d2cc"/>
<circle cx="716" cy="140.8" r="3.1" fill="#a67c22"/>
<circle cx="737.8" cy="140.8" r="7.1" fill="#d4d2cc"/>
<circle cx="737.8" cy="140.8" r="3.1" fill="#a67c22"/>
<circle cx="693.8" cy="168.8" r="7.1" fill="#d4d2cc"/>
<circle cx="693.8" cy="168.8" r="3.1" fill="#a67c22"/>
<circle cx="716" cy="168.8" r="7.1" fill="#d4d2cc"/>
<circle cx="716" cy="168.8" r="3.1" fill="#a67c22"/>
<circle cx="737.8" cy="168.8" r="7.1" fill="#d4d2cc"/>
<circle cx="737.8" cy="168.8" r="3.1" fill="#a67c22"/>
<circle cx="693.8" cy="196.6" r="7.1" fill="#d4d2cc"/>
<circle cx="693.8" cy="196.6" r="3.1" fill="#a67c22"/>
<circle cx="716" cy="196.6" r="7.1" fill="#d4d2cc"/>
<circle cx="716" cy="196.6" r="3.1" fill="#a67c22"/>
<circle cx="737.8" cy="196.6" r="7.1" fill="#d4d2cc"/>
<circle cx="737.8" cy="196.6" r="3.1" fill="#a67c22"/>
<circle cx="693.8" cy="224.7" r="7.1" fill="#d4d2cc"/>
<circle cx="693.8" cy="224.7" r="3.1" fill="#a67c22"/>
<circle cx="716" cy="224.7" r="7.1" fill="#d4d2cc"/>
<circle cx="716" cy="224.7" r="3.1" fill="#a67c22"/>
<circle cx="737.8" cy="224.7" r="7.1" fill="#d4d2cc"/>
<circle cx="737.8" cy="224.7" r="3.1" fill="#a67c22"/>
<circle cx="693.8" cy="251.6" r="7.1" fill="#d4d2cc"/>
<circle cx="693.8" cy="251.6" r="3.1" fill="#a67c22"/>
<circle cx="716" cy="251.6" r="7.1" fill="#d4d2cc"/>
<circle cx="716" cy="251.6" r="3.1" fill="#a67c22"/>
<circle cx="737.8" cy="251.6" r="7.1" fill="#d4d2cc"/>
<circle cx="737.8" cy="251.6" r="3.1" fill="#a67c22"/>
<circle cx="716" cy="279.8" r="7.1" fill="#d4d2cc"/>
<circle cx="716" cy="279.8" r="3.1" fill="#a67c22"/>
<circle cx="737.8" cy="279.8" r="7.1" fill="#d4d2cc"/>
<circle cx="737.8" cy="279.8" r="3.1" fill="#a67c22"/>
<circle cx="716" cy="307.7" r="7.1" fill="#d4d2cc"/>
<circle cx="716" cy="307.7" r="3.1" fill="#a67c22"/>
<circle cx="737.8" cy="307.7" r="7.1" fill="#d4d2cc"/>
<circle cx="737.8" cy="307.7" r="3.1" fill="#a67c22"/>
<circle cx="716" cy="335.9" r="7.1" fill="#d4d2cc"/>
<circle cx="716" cy="335.9" r="3.1" fill="#a67c22"/>
<circle cx="737.8" cy="335.9" r="7.1" fill="#d4d2cc"/>
<circle cx="737.8" cy="335.9" r="3.1" fill="#a67c22"/>
<circle cx="813.8" cy="140" r="7.1" fill="#d4d2cc"/>
<circle cx="813.8" cy="140" r="3.1" fill="#a67c22"/>
<circle cx="813.8" cy="158" r="7.1" fill="#d4d2cc"/>
<circle cx="813.8" cy="158" r="3.1" fill="#a67c22"/>
<circle cx="814.9" cy="262.8" r="7.1" fill="#d4d2cc"/>
<circle cx="814.9" cy="262.8" r="3.1" fill="#a67c22"/>
<circle cx="814.9" cy="280.9" r="7.1" fill="#d4d2cc"/>
<circle cx="814.9" cy="280.9" r="3.1" fill="#a67c22"/>
<circle cx="878" cy="183" r="7.1" fill="#d4d2cc"/>
<circle cx="878" cy="183" r="3.1" fill="#a67c22"/>
<circle cx="896" cy="183" r="7.1" fill="#d4d2cc"/>
<circle cx="896" cy="183" r="3.1" fill="#a67c22"/>
<circle cx="878" cy="200.9" r="7.1" fill="#d4d2cc"/>
<circle cx="878" cy="200.9" r="3.1" fill="#a67c22"/>
<circle cx="896" cy="200.9" r="7.1" fill="#d4d2cc"/>
<circle cx="896" cy="200.9" r="3.1" fill="#a67c22"/>
<circle cx="465.9" cy="423.9" r="7.1" fill="#d4d2cc"/>
<circle cx="465.9" cy="423.9" r="3.1" fill="#a67c22"/>
<circle cx="483.1" cy="423.9" r="7.1" fill="#d4d2cc"/>
<circle cx="483.1" cy="423.9" r="3.1" fill="#a67c22"/>
<circle cx="465.9" cy="440.6" r="7.1" fill="#d4d2cc"/>
<circle cx="465.9" cy="440.6" r="3.1" fill="#a67c22"/>
<circle cx="483.1" cy="440.6" r="7.1" fill="#d4d2cc"/>
<circle cx="483.1" cy="440.6" r="3.1" fill="#a67c22"/>
<circle cx="626.9" cy="507.7" r="7.1" fill="#d4d2cc"/>
<circle cx="626.9" cy="507.7" r="3.1" fill="#a67c22"/>
<circle cx="661.1" cy="507.7" r="7.1" fill="#d4d2cc"/>
<circle cx="661.1" cy="507.7" r="3.1" fill="#a67c22"/>
<circle cx="694" cy="507.7" r="7.1" fill="#d4d2cc"/>
<circle cx="694" cy="507.7" r="3.1" fill="#a67c22"/>
<circle cx="626.9" cy="540.9" r="7.1" fill="#d4d2cc"/>
<circle cx="626.9" cy="540.9" r="3.1" fill="#a67c22"/>
<circle cx="661.1" cy="540.9" r="7.1" fill="#d4d2cc"/>
<circle cx="661.1" cy="540.9" r="3.1" fill="#a67c22"/>
<circle cx="694" cy="540.9" r="7.1" fill="#d4d2cc"/>
<circle cx="694" cy="540.9" r="3.1" fill="#a67c22"/>
<circle cx="626.9" cy="574" r="7.1" fill="#d4d2cc"/>
<circle cx="626.9" cy="574" r="3.1" fill="#a67c22"/>
<circle cx="661.1" cy="574" r="7.1" fill="#d4d2cc"/>
<circle cx="661.1" cy="574" r="3.1" fill="#a67c22"/>
<circle cx="694" cy="574" r="7.1" fill="#d4d2cc"/>
<circle cx="694" cy="574" r="3.1" fill="#a67c22"/>
<circle cx="927.1" cy="419.1" r="7.1" fill="#d4d2cc"/>
<circle cx="927.1" cy="419.1" r="3.1" fill="#a67c22"/>
<circle cx="949" cy="419.1" r="7.1" fill="#d4d2cc"/>
<circle cx="949" cy="419.1" r="3.1" fill="#a67c22"/>
<circle cx="927.1" cy="446.9" r="7.1" fill="#d4d2cc"/>
<circle cx="927.1" cy="446.9" r="3.1" fill="#a67c22"/>
<circle cx="949" cy="446.9" r="7.1" fill="#d4d2cc"/>
<circle cx="949" cy="446.9" r="3.1" fill="#a67c22"/>
<circle cx="927.1" cy="474" r="7.1" fill="#d4d2cc"/>
<circle cx="927.1" cy="474" r="3.1" fill="#a67c22"/>
<circle cx="949" cy="474" r="7.1" fill="#d4d2cc"/>
<circle cx="949" cy="474" r="3.1" fill="#a67c22"/>
<circle cx="927.1" cy="501.7" r="7.1" fill="#d4d2cc"/>
<circle cx="927.1" cy="501.7" r="3.1" fill="#a67c22"/>
<circle cx="949" cy="501.7" r="7.1" fill="#d4d2cc"/>
<circle cx="949" cy="501.7" r="3.1" fill="#a67c22"/>
<circle cx="927.1" cy="529.7" r="7.1" fill="#d4d2cc"/>
<circle cx="927.1" cy="529.7" r="3.1" fill="#a67c22"/>
<circle cx="949" cy="529.7" r="7.1" fill="#d4d2cc"/>
<circle cx="949" cy="529.7" r="3.1" fill="#a67c22"/>
<circle cx="927.1" cy="557.5" r="7.1" fill="#d4d2cc"/>
<circle cx="927.1" cy="557.5" r="3.1" fill="#a67c22"/>
<circle cx="949" cy="557.5" r="7.1" fill="#d4d2cc"/>
<circle cx="949" cy="557.5" r="3.1" fill="#a67c22"/>
<circle cx="391.7" cy="560.9" r="7.1" fill="#d4d2cc"/>
<circle cx="391.7" cy="560.9" r="3.1" fill="#a67c22"/>
<circle cx="342.7" cy="575.7" r="7.1" fill="#d4d2cc"/>
<circle cx="342.7" cy="575.7" r="3.1" fill="#a67c22"/>
<circle cx="411" cy="581.7" r="7.1" fill="#d4d2cc"/>
<circle cx="411" cy="581.7" r="3.1" fill="#a67c22"/>
<circle cx="217.6" cy="473.3" r="7.1" fill="#d4d2cc"/>
<circle cx="217.6" cy="473.3" r="3.1" fill="#a67c22"/>
<circle cx="220.9" cy="496.6" r="7.1" fill="#d4d2cc"/>
<circle cx="220.9" cy="496.6" r="3.1" fill="#a67c22"/>
<circle cx="433.7" cy="505.8" r="7.1" fill="#d4d2cc"/>
<circle cx="433.7" cy="505.8" r="3.1" fill="#a67c22"/>
<polyline points="766,457.9 766,468.4" fill="none" stroke="#000" stroke-width="2.4" stroke-linecap="butt" stroke-linejoin="round"/>
<polyline points="766,502.4 766,512.5" fill="none" stroke="#000" stroke-width="2.4" stroke-linecap="butt" stroke-linejoin="round"/>
<polyline points="877.2,457.9 877.2,468.4" fill="none" stroke="#000" stroke-width="2.4" stroke-linecap="butt" stroke-linejoin="round"/>
<polyline points="877.2,502.4 877.2,512.5" fill="none" stroke="#000" stroke-width="2.4" stroke-linecap="butt" stroke-linejoin="round"/>
<polyline points="276.8,457.6 276.8,468.8" fill="none" stroke="#000" stroke-width="2.4" stroke-linecap="butt" stroke-linejoin="round"/>
<polyline points="276.8,502.8 276.8,513" fill="none" stroke="#000" stroke-width="2.4" stroke-linecap="butt" stroke-linejoin="round"/>
<polyline points="387.8,457.6 387.8,468.8" fill="none" stroke="#000" stroke-width="2.4" stroke-linecap="butt" stroke-linejoin="round"/>
<polyline points="387.8,502.8 387.8,513" fill="none" stroke="#000" stroke-width="2.4" stroke-linecap="butt" stroke-linejoin="round"/>
<circle cx="276.8" cy="440.6" r="18.9" fill="#000"/>
<circle cx="276.8" cy="485.8" r="18.9" fill="#000"/>
<circle cx="276.8" cy="530" r="18.9" fill="#000"/>
<circle cx="387.8" cy="440.6" r="18.9" fill="#000"/>
<circle cx="387.8" cy="485.8" r="18.9" fill="#000"/>
<circle cx="387.8" cy="530" r="18.9" fill="#000"/>
<circle cx="766" cy="440.9" r="18.9" fill="#000"/>
<circle cx="766" cy="485.4" r="18.9" fill="#000"/>
<circle cx="766" cy="529.5" r="18.9" fill="#000"/>
<circle cx="877.2" cy="440.9" r="18.9" fill="#000"/>
<circle cx="877.2" cy="485.4" r="18.9" fill="#000"/>
<circle cx="877.2" cy="529.5" r="18.9" fill="#000"/>
<polyline points="766,440.6 877.2,440.6" fill="none" stroke="#840000" stroke-width="12.9" stroke-linecap="butt" stroke-linejoin="round"/>
<polyline points="740,485.4 877.2,485.4" fill="none" stroke="#840000" stroke-width="13" stroke-linecap="butt" stroke-linejoin="round"/>
<polyline points="387.8,440.6 423,440.6" fill="none" stroke="#840000" stroke-width="18" stroke-linecap="butt" stroke-linejoin="round"/>
<polyline points="387.8,485.8 366,485.8" fill="none" stroke="#840000" stroke-width="5.8" stroke-linecap="butt" stroke-linejoin="round"/>
<polygon points="766,440.9 774,423 786,433" fill="#008400"/>
<circle cx="276.8" cy="440.6" r="18.9" fill="none" stroke="#ecd2a4" stroke-width="1"/>
<circle cx="276.8" cy="440.6" r="9.2" fill="#000"/>
<circle cx="276.8" cy="440.6" r="11.5" fill="none" stroke="#c2c200" stroke-width="5"/>
<circle cx="276.8" cy="485.8" r="18.9" fill="none" stroke="#ecd2a4" stroke-width="1"/>
<circle cx="276.8" cy="485.8" r="9.2" fill="#000"/>
<circle cx="276.8" cy="485.8" r="11.5" fill="none" stroke="#c2c200" stroke-width="5"/>
<circle cx="276.8" cy="530" r="18.9" fill="none" stroke="#ecd2a4" stroke-width="1"/>
<circle cx="276.8" cy="530" r="9.2" fill="#000"/>
<circle cx="276.8" cy="530" r="11.5" fill="none" stroke="#c2c200" stroke-width="5"/>
<rect x="270.3" y="539.8" width="13" height="5.8" fill="#d8d8a0"/>
<rect x="272.2" y="541.4" width="9.2" height="2.4" fill="#c2c200"/>
<circle cx="387.8" cy="440.6" r="18.9" fill="none" stroke="#ecd2a4" stroke-width="1"/>
<circle cx="387.8" cy="440.6" r="9.2" fill="#000"/>
<circle cx="387.8" cy="440.6" r="11.5" fill="none" stroke="#c2c200" stroke-width="5"/>
<rect x="381.3" y="425" width="13" height="5.8" fill="#d8d8a0"/>
<rect x="383.2" y="426.8" width="9.2" height="2.4" fill="#c2c200"/>
<circle cx="387.8" cy="485.8" r="18.9" fill="none" stroke="#ecd2a4" stroke-width="1"/>
<circle cx="387.8" cy="485.8" r="9.2" fill="#000"/>
<circle cx="387.8" cy="485.8" r="11.5" fill="none" stroke="#c2c200" stroke-width="5"/>
<circle cx="387.8" cy="530" r="18.9" fill="none" stroke="#ecd2a4" stroke-width="1"/>
<circle cx="387.8" cy="530" r="9.2" fill="#000"/>
<circle cx="387.8" cy="530" r="11.5" fill="none" stroke="#c2c200" stroke-width="5"/>
<circle cx="766" cy="440.9" r="18.9" fill="none" stroke="#ecd2a4" stroke-width="1"/>
<circle cx="766" cy="440.9" r="9.2" fill="#000"/>
<circle cx="766" cy="440.9" r="11.5" fill="none" stroke="#c2c200" stroke-width="5"/>
<circle cx="766" cy="485.4" r="18.9" fill="none" stroke="#ecd2a4" stroke-width="1"/>
<circle cx="766" cy="485.4" r="9.2" fill="#000"/>
<circle cx="766" cy="485.4" r="11.5" fill="none" stroke="#c2c200" stroke-width="5"/>
<circle cx="766" cy="529.5" r="18.9" fill="none" stroke="#ecd2a4" stroke-width="1"/>
<circle cx="766" cy="529.5" r="9.2" fill="#000"/>
<circle cx="766" cy="529.5" r="11.5" fill="none" stroke="#c2c200" stroke-width="5"/>
<rect x="759.5" y="539.3" width="13" height="5.8" fill="#d8d8a0"/>
<rect x="761.4" y="540.9" width="9.2" height="2.4" fill="#c2c200"/>
<circle cx="877.2" cy="440.9" r="18.9" fill="none" stroke="#ecd2a4" stroke-width="1"/>
<circle cx="877.2" cy="440.9" r="9.2" fill="#000"/>
<circle cx="877.2" cy="440.9" r="11.5" fill="none" stroke="#c2c200" stroke-width="5"/>
<rect x="870.7" y="425.3" width="13" height="5.8" fill="#d8d8a0"/>
<rect x="872.6" y="427.1" width="9.2" height="2.4" fill="#c2c200"/>
<circle cx="877.2" cy="485.4" r="18.9" fill="none" stroke="#ecd2a4" stroke-width="1"/>
<circle cx="877.2" cy="485.4" r="9.2" fill="#000"/>
<circle cx="877.2" cy="485.4" r="11.5" fill="none" stroke="#c2c200" stroke-width="5"/>
<circle cx="877.2" cy="529.5" r="18.9" fill="none" stroke="#ecd2a4" stroke-width="1"/>
<circle cx="877.2" cy="529.5" r="9.2" fill="#000"/>
<circle cx="877.2" cy="529.5" r="11.5" fill="none" stroke="#c2c200" stroke-width="5"/>
<rect x="130" y="371.1" width="47" height="35" fill="#840000" rx="17.5" stroke="#e0a860" stroke-width="1"/>
<rect x="134.7" y="376.2" width="37.6" height="24.8" fill="#c2c200" rx="12.4"/>
<rect x="141.7" y="381.6" width="23.6" height="14" fill="#000" rx="7"/>
<text text-anchor="middle" font-size="12.6" fill="#e8e8e8" textLength="15" lengthAdjust="spacingAndGlyphs" opacity=".8" transform="translate(153.5 381.6)" y="4.5">S1</text>
<text text-anchor="middle" font-size="11.2" fill="#e8e8e8" textLength="26" lengthAdjust="spacingAndGlyphs" opacity=".8" transform="translate(153.5 394.1)" y="4">GND</text>
<rect x="214.5" y="371.1" width="47" height="35" fill="#840000" rx="17.5" stroke="#e0a860" stroke-width="1"/>
<rect x="219.2" y="376.2" width="37.6" height="24.8" fill="#c2c200" rx="12.4"/>
<rect x="226.2" y="381.6" width="23.6" height="14" fill="#000" rx="7"/>
<text text-anchor="middle" font-size="12.6" fill="#e8e8e8" textLength="15" lengthAdjust="spacingAndGlyphs" opacity=".8" transform="translate(238 381.6)" y="4.5">S1</text>
<text text-anchor="middle" font-size="11.2" fill="#e8e8e8" textLength="26" lengthAdjust="spacingAndGlyphs" opacity=".8" transform="translate(238 394.1)" y="4">GND</text>
<rect x="130" y="562.5" width="47" height="35" fill="#840000" rx="17.5" stroke="#e0a860" stroke-width="1"/>
<rect x="134.7" y="567.6" width="37.6" height="24.8" fill="#c2c200" rx="12.4"/>
<rect x="141.7" y="573" width="23.6" height="14" fill="#000" rx="7"/>
<text text-anchor="middle" font-size="12.6" fill="#e8e8e8" textLength="15" lengthAdjust="spacingAndGlyphs" opacity=".8" transform="translate(153.5 573)" y="4.5">S1</text>
<text text-anchor="middle" font-size="11.2" fill="#e8e8e8" textLength="26" lengthAdjust="spacingAndGlyphs" opacity=".8" transform="translate(153.5 585.5)" y="4">GND</text>
<rect x="214.5" y="562.5" width="47" height="35" fill="#840000" rx="17.5" stroke="#e0a860" stroke-width="1"/>
<rect x="219.2" y="567.6" width="37.6" height="24.8" fill="#c2c200" rx="12.4"/>
<rect x="226.2" y="573" width="23.6" height="14" fill="#000" rx="7"/>
<text text-anchor="middle" font-size="12.6" fill="#e8e8e8" textLength="15" lengthAdjust="spacingAndGlyphs" opacity=".8" transform="translate(238 573)" y="4.5">S1</text>
<text text-anchor="middle" font-size="11.2" fill="#e8e8e8" textLength="26" lengthAdjust="spacingAndGlyphs" opacity=".8" transform="translate(238 585.5)" y="4">GND</text>
<rect x="136.5" y="385.4" width="23" height="2" fill="#ddd"/>
<rect x="136.5" y="390.1" width="23" height="1.7" fill="#ddd"/>
<rect x="136.5" y="576.8" width="23" height="2" fill="#ddd"/>
<rect x="136.5" y="581.5" width="23" height="1.7" fill="#ddd"/>
<circle cx="574.2" cy="529.7" r="41" fill="#000"/>
<path d="M549 518h1M572 518h1M594 518h1M549 540h1M572 540h1M594 540h1" stroke="#8c8c8c" stroke-width="1" transform="translate(0 .5)" shape-rendering="crispEdges"/>
<circle cx="574.2" cy="529.7" r="34.8" fill="none" stroke="#c2c200" stroke-width="1.3"/>
<text text-anchor="middle" font-size="10.6" fill="#f2f2f2" textLength="6" lengthAdjust="spacingAndGlyphs" transform="translate(188 163)" y="3.8">2</text>
<text text-anchor="middle" font-size="10.6" fill="#f2f2f2" textLength="21" lengthAdjust="spacingAndGlyphs" transform="translate(188 175.6)" y="3.8">GND</text>
<text text-anchor="middle" font-size="10.6" fill="#f2f2f2" textLength="4" lengthAdjust="spacingAndGlyphs" transform="translate(188.1 228.6)" y="3.8">1</text>
<text text-anchor="middle" font-size="10.6" fill="#f2f2f2" textLength="28" lengthAdjust="spacingAndGlyphs" transform="translate(188.1 240.6)" y="3.8">VBUS</text>
<text text-anchor="middle" font-size="20.9" fill="#f2f2f2" textLength="9" lengthAdjust="spacingAndGlyphs" transform="translate(232.9 201.4) rotate(-90)" y="7.5">1</text>
<text text-anchor="middle" font-size="22.3" fill="#f2f2f2" textLength="49" lengthAdjust="spacingAndGlyphs" transform="translate(254.4 201.6) rotate(-90)" y="8">VBUS</text>
<text text-anchor="middle" font-size="16.2" fill="#f2f2f2" textLength="8" lengthAdjust="spacingAndGlyphs" transform="translate(161.6 343.6) rotate(-90)" y="5.8">2</text>
<text text-anchor="middle" font-size="5" fill="#f2f2f2" textLength="36" lengthAdjust="spacingAndGlyphs" opacity=".8" transform="translate(177.5 343.6) rotate(-90)" y="1.8">Net-(D1-Pad2)</text>
<text text-anchor="middle" font-size="14" fill="#f2f2f2" textLength="6" lengthAdjust="spacingAndGlyphs" transform="translate(227.5 343.6) rotate(-90)" y="5">1</text>
<text text-anchor="middle" font-size="14" fill="#f2f2f2" textLength="32" lengthAdjust="spacingAndGlyphs" transform="translate(243.7 343.9) rotate(-90)" y="5">VBUS</text>
<text text-anchor="middle" font-size="21.8" fill="#f2f2f2" textLength="10" lengthAdjust="spacingAndGlyphs" transform="translate(358.8 201) rotate(-90)" y="7.8">2</text>
<text text-anchor="middle" font-size="7" fill="#f2f2f2" textLength="63.5" lengthAdjust="spacingAndGlyphs" opacity=".85" transform="translate(381.5 201.8) rotate(-90)" y="2.5">Net-(D1-Pad2)</text>
<text text-anchor="middle" font-size="20" fill="#f2f2f2" textLength="9.5" lengthAdjust="spacingAndGlyphs" transform="translate(444.3 157.5) rotate(-90)" y="7.2">2</text>
<text text-anchor="middle" font-size="6.4" fill="#f2f2f2" textLength="46.6" lengthAdjust="spacingAndGlyphs" opacity=".85" transform="translate(464.9 157.5) rotate(-90)" y="2.3">Net-(D1-Pad2)</text>
<text text-anchor="middle" font-size="20.9" fill="#f2f2f2" textLength="9" lengthAdjust="spacingAndGlyphs" transform="translate(444.6 246) rotate(-90)" y="7.5">1</text>
<text text-anchor="middle" font-size="20.9" fill="#f2f2f2" textLength="46" lengthAdjust="spacingAndGlyphs" transform="translate(466.5 246) rotate(-90)" y="7.5">+12V</text>
<text text-anchor="middle" font-size="51.7" fill="#fff" textLength="26.5" lengthAdjust="spacingAndGlyphs" transform="translate(344.6 340.6)" y="18.5">9</text>
<text text-anchor="middle" font-size="24.4" fill="#f2f2f2" textLength="11.5" lengthAdjust="spacingAndGlyphs" transform="translate(543.6 371.5)" y="8.8">2</text>
<text text-anchor="middle" font-size="16.8" fill="#f2f2f2" textLength="45" lengthAdjust="spacingAndGlyphs" transform="translate(544.5 398.7)" y="6">FAN+</text>
<text text-anchor="middle" font-size="24.4" fill="#f2f2f2" textLength="9" lengthAdjust="spacingAndGlyphs" transform="translate(644 371.5)" y="8.8">1</text>
<text text-anchor="middle" font-size="24.4" fill="#f2f2f2" textLength="43" lengthAdjust="spacingAndGlyphs" transform="translate(644 397.8)" y="8.8">GND</text>
<text text-anchor="middle" font-size="12" fill="#e8c8c0" textLength="33" lengthAdjust="spacingAndGlyphs" transform="translate(692.3 373) rotate(-90)" y="4.3">VBUS</text>
<text text-anchor="middle" font-size="8.9" fill="#f2f2f2" textLength="4.6" lengthAdjust="spacingAndGlyphs" transform="translate(839.8 185.6)" y="3.2">2</text>
<text text-anchor="middle" font-size="8.9" fill="#f2f2f2" textLength="16" lengthAdjust="spacingAndGlyphs" transform="translate(839.8 195.7)" y="3.2">GND</text>
<text text-anchor="middle" font-size="8.9" fill="#f2f2f2" textLength="4.6" lengthAdjust="spacingAndGlyphs" transform="translate(839.8 307.7)" y="3.2">2</text>
<text text-anchor="middle" font-size="8.9" fill="#f2f2f2" textLength="16" lengthAdjust="spacingAndGlyphs" transform="translate(839.8 318)" y="3.2">GND</text>
<text text-anchor="middle" font-size="26.8" fill="#f2f2f2" textLength="12.5" lengthAdjust="spacingAndGlyphs" transform="translate(929.4 201.8) rotate(-90)" y="9.6">2</text>
<text text-anchor="middle" font-size="27.1" fill="#f2f2f2" textLength="43" lengthAdjust="spacingAndGlyphs" transform="translate(955.6 202.3) rotate(-90)" y="9.7">OUT</text>
<text text-anchor="middle" font-size="26.5" fill="#f2f2f2" textLength="10" lengthAdjust="spacingAndGlyphs" transform="translate(929.9 301.8) rotate(-90)" y="9.5">1</text>
<text text-anchor="middle" font-size="6.1" fill="#f2f2f2" textLength="46.5" lengthAdjust="spacingAndGlyphs" opacity=".85" transform="translate(957 301.8) rotate(-90)" y="2.2">Net-(D8-Pad1)</text>
<text text-anchor="middle" font-size="10.6" fill="#f2f2f2" textLength="4.5" lengthAdjust="spacingAndGlyphs" transform="translate(521.2 296.5) rotate(-90)" y="3.8">1</text>
<text text-anchor="middle" font-size="10.9" fill="#f2f2f2" textLength="28" lengthAdjust="spacingAndGlyphs" transform="translate(534.7 296.5) rotate(-90)" y="3.9">+12V</text>
<text text-anchor="middle" font-size="10.6" fill="#f2f2f2" textLength="5" lengthAdjust="spacingAndGlyphs" transform="translate(587 297) rotate(-90)" y="3.8">2</text>
<text text-anchor="middle" font-size="10.9" fill="#f2f2f2" textLength="20.7" lengthAdjust="spacingAndGlyphs" transform="translate(599.7 296.5) rotate(-90)" y="3.9">GND</text>
<text text-anchor="middle" font-size="4.5" fill="#f2f2f2" textLength="2.4" lengthAdjust="spacingAndGlyphs" opacity=".85" transform="translate(404 293.4)" y="1.6">2</text>
<text text-anchor="middle" font-size="4.5" fill="#f2f2f2" textLength="28" lengthAdjust="spacingAndGlyphs" opacity=".85" transform="translate(404 299.4)" y="1.6">Net-(D2-Pad2)</text>
<text text-anchor="middle" font-size="4.5" fill="#f2f2f2" textLength="2.4" lengthAdjust="spacingAndGlyphs" opacity=".85" transform="translate(404 325.2)" y="1.6">2</text>
<text text-anchor="middle" font-size="4.5" fill="#f2f2f2" textLength="28" lengthAdjust="spacingAndGlyphs" opacity=".85" transform="translate(404 331.2)" y="1.6">Net-(D2-Pad1)</text>
<text text-anchor="middle" font-size="4.5" fill="#f2f2f2" textLength="2.4" lengthAdjust="spacingAndGlyphs" opacity=".85" transform="translate(404 355)" y="1.6">1</text>
<text text-anchor="middle" font-size="4.5" fill="#f2f2f2" textLength="28" lengthAdjust="spacingAndGlyphs" opacity=".85" transform="translate(404 361)" y="1.6">Net-(D2-Pad1)</text>
<text text-anchor="middle" font-size="4.5" fill="#f2f2f2" textLength="2.4" lengthAdjust="spacingAndGlyphs" opacity=".85" transform="translate(404 385)" y="1.6">1</text>
<text text-anchor="middle" font-size="4.5" fill="#f2f2f2" textLength="8" lengthAdjust="spacingAndGlyphs" opacity=".85" transform="translate(404 391)" y="1.6">GSB</text>
<text text-anchor="middle" font-size="4.5" fill="#f2f2f2" textLength="2.4" lengthAdjust="spacingAndGlyphs" opacity=".85" transform="translate(284.6 385)" y="1.6">6</text>
<text text-anchor="middle" font-size="4.5" fill="#f2f2f2" textLength="28" lengthAdjust="spacingAndGlyphs" opacity=".85" transform="translate(284.6 391)" y="1.6">Net-(J1-Pad6)</text>
<text text-anchor="middle" font-size="4.5" fill="#f2f2f2" textLength="2.4" lengthAdjust="spacingAndGlyphs" opacity=".85" transform="translate(283.5 297.8)" y="1.6">1</text>
<text text-anchor="middle" font-size="4.5" fill="#f2f2f2" textLength="9" lengthAdjust="spacingAndGlyphs" opacity=".85" transform="translate(283.5 303.8)" y="1.6">G1R</text>
<text text-anchor="middle" font-size="4.5" fill="#f2f2f2" textLength="2.4" lengthAdjust="spacingAndGlyphs" opacity=".85" transform="translate(283.5 326.3)" y="1.6">2</text>
<text text-anchor="middle" font-size="4.5" fill="#f2f2f2" textLength="12" lengthAdjust="spacingAndGlyphs" opacity=".85" transform="translate(283.5 332.3)" y="1.6">VBUS</text>
<text text-anchor="middle" font-size="4.5" fill="#f2f2f2" textLength="2.4" lengthAdjust="spacingAndGlyphs" opacity=".85" transform="translate(283.5 355.3)" y="1.6">1</text>
<text text-anchor="middle" font-size="4.5" fill="#f2f2f2" textLength="12" lengthAdjust="spacingAndGlyphs" opacity=".85" transform="translate(283.5 361.3)" y="1.6">VBUS</text>
<text text-anchor="middle" font-size="7" fill="#30c030" textLength="12" lengthAdjust="spacingAndGlyphs" transform="translate(461 310)" y="2.5">D6</text>
<path d="M133.4 123.2H499.7V266H655.6V123.2H988V661.7H133.4z" fill="none" stroke="#c2c200" stroke-width="1.7"/>
<polyline points="499.7,123 499.7,54" fill="none" stroke="#c2c2c2" stroke-width="2.4" stroke-linecap="butt" stroke-linejoin="miter"/>
<polyline points="655.6,123 655.6,54" fill="none" stroke="#c2c2c2" stroke-width="2.4" stroke-linecap="butt" stroke-linejoin="miter"/>
<polyline points="499.7,67.1 655.6,67.1" fill="none" stroke="#c2c2c2" stroke-width="2.4" stroke-linecap="butt" stroke-linejoin="miter"/>
<polyline points="526,53.7 500.5,67.1 526,80.5" fill="none" stroke="#c2c2c2" stroke-width="2.4" stroke-linecap="butt" stroke-linejoin="miter"/>
<polyline points="629.3,53.7 654.8,67.1 629.3,80.5" fill="none" stroke="#c2c2c2" stroke-width="2.4" stroke-linecap="butt" stroke-linejoin="miter"/>
<polyline points="133.6,661 133.6,708" fill="none" stroke="#c2c2c2" stroke-width="2.4" stroke-linecap="butt" stroke-linejoin="miter"/>
<polyline points="988.3,661 988.3,708" fill="none" stroke="#c2c2c2" stroke-width="2.4" stroke-linecap="butt" stroke-linejoin="miter"/>
<polyline points="133.6,693.3 988.3,693.3" fill="none" stroke="#c2c2c2" stroke-width="2.4" stroke-linecap="butt" stroke-linejoin="miter"/>
<polyline points="160,679.8 134.4,693.3 160,706.8" fill="none" stroke="#c2c2c2" stroke-width="2.4" stroke-linecap="butt" stroke-linejoin="miter"/>
<polyline points="962,679.8 987.5,693.3 962,706.8" fill="none" stroke="#c2c2c2" stroke-width="2.4" stroke-linecap="butt" stroke-linejoin="miter"/>
<polyline points="988,122.4 1078,122.4" fill="none" stroke="#c2c2c2" stroke-width="2.4" stroke-linecap="butt" stroke-linejoin="miter"/>
<polyline points="988,661.4 1078,661.4" fill="none" stroke="#c2c2c2" stroke-width="2.4" stroke-linecap="butt" stroke-linejoin="miter"/>
<polyline points="1063.4,122.4 1063.4,661.4" fill="none" stroke="#c2c2c2" stroke-width="2.4" stroke-linecap="butt" stroke-linejoin="miter"/>
<polyline points="1049.9,148.5 1063.4,123.2 1076.9,148.5" fill="none" stroke="#c2c2c2" stroke-width="2.4" stroke-linecap="butt" stroke-linejoin="miter"/>
<polyline points="1049.9,635.3 1063.4,660.6 1076.9,635.3" fill="none" stroke="#c2c2c2" stroke-width="2.4" stroke-linecap="butt" stroke-linejoin="miter"/>
<g transform="translate(577.6 37.4)" fill="none" stroke="#c2c2c2" stroke-width="2.9" stroke-linecap="round" stroke-linejoin="round"><path transform="translate(-82.72 -10.70) scale(14.60 21.40)" vector-effect="non-scaling-stroke" d="M0 0H1L.38 1"/><circle cx="-59.20" cy="9.70" r="2.4" fill="#c2c2c2" stroke="none"/><path transform="translate(-49.17 -10.70) scale(12.40 21.40)" vector-effect="non-scaling-stroke" d="M.5 0C.18 0 0 .2 0 .5S.18 1 .5 1 1 .8 1 .5 .82 0 .5 0z"/><path transform="translate(-28.02 -10.70) scale(12.40 21.40)" vector-effect="non-scaling-stroke" d="M.5 0C.18 0 0 .2 0 .5S.18 1 .5 1 1 .8 1 .5 .82 0 .5 0z"/><path transform="translate(-6.88 -10.70) scale(12.40 21.40)" vector-effect="non-scaling-stroke" d="M.5 0C.18 0 0 .2 0 .5S.18 1 .5 1 1 .8 1 .5 .82 0 .5 0z"/><path transform="translate(31.57 -10.70) scale(19.00 21.40)" vector-effect="non-scaling-stroke" d="M0 1V.3M0 .45C.08 .35 .17 .3 .28 .3 .42 .3 .5 .38 .5 .52V1M.5 .45C.58 .35 .67 .3 .78 .3 .92 .3 1 .38 1 .52V1"/><path transform="translate(61.52 -10.70) scale(19.00 21.40)" vector-effect="non-scaling-stroke" d="M0 1V.3M0 .45C.08 .35 .17 .3 .28 .3 .42 .3 .5 .38 .5 .52V1M.5 .45C.58 .35 .67 .3 .78 .3 .92 .3 1 .38 1 .52V1"/></g>
<g transform="translate(561 721.5)" fill="none" stroke="#c2c2c2" stroke-width="2.9" stroke-linecap="round" stroke-linejoin="round"><path transform="translate(-92.70 -10.70) scale(13.40 21.40)" vector-effect="non-scaling-stroke" d="M0 0H1L.42 .4C.8 .4 1 .5 1 .7 1 .9 .8 1 .5 1 .25 1 .08 .95 0 .86"/><path transform="translate(-71.35 -10.70) scale(13.00 21.40)" vector-effect="non-scaling-stroke" d="M.5 .44C.2 .44 .08 .34 .08 .22S.25 0 .5 0 .92 .1 .92 .22 .8 .44 .5 .44C.18 .44 0 .56 0 .72S.2 1 .5 1 1 .88 1 .72 .82 .44 .5 .44z"/><circle cx="-48.62" cy="9.70" r="2.4" fill="#c2c2c2" stroke="none"/><path transform="translate(-38.90 -10.70) scale(13.00 21.40)" vector-effect="non-scaling-stroke" d="M.92 0H.1L0 .46C.12 .4 .3 .37 .5 .37 .82 .37 1 .5 1 .68 1 .88 .8 1 .5 1 .25 1 .08 .95 0 .86"/><path transform="translate(-17.45 -10.70) scale(12.40 21.40)" vector-effect="non-scaling-stroke" d="M.5 0C.18 0 0 .2 0 .5S.18 1 .5 1 1 .8 1 .5 .82 0 .5 0z"/><path transform="translate(3.70 -10.70) scale(12.40 21.40)" vector-effect="non-scaling-stroke" d="M.5 0C.18 0 0 .2 0 .5S.18 1 .5 1 1 .8 1 .5 .82 0 .5 0z"/><path transform="translate(42.15 -10.70) scale(19.00 21.40)" vector-effect="non-scaling-stroke" d="M0 1V.3M0 .45C.08 .35 .17 .3 .28 .3 .42 .3 .5 .38 .5 .52V1M.5 .45C.58 .35 .67 .3 .78 .3 .92 .3 1 .38 1 .52V1"/><path transform="translate(72.10 -10.70) scale(19.00 21.40)" vector-effect="non-scaling-stroke" d="M0 1V.3M0 .45C.08 .35 .17 .3 .28 .3 .42 .3 .5 .38 .5 .52V1M.5 .45C.58 .35 .67 .3 .78 .3 .92 .3 1 .38 1 .52V1"/></g>
<g transform="translate(1093.5 391.9) rotate(90)" fill="none" stroke="#c2c2c2" stroke-width="2.9" stroke-linecap="round" stroke-linejoin="round"><path transform="translate(-92.70 -10.70) scale(13.40 21.40)" vector-effect="non-scaling-stroke" d="M.02 .2C.08 .07 .25 0 .5 0 .8 0 1 .1 1 .27 1 .4 .9 .5 .75 .62L0 1H1"/><path transform="translate(-72.15 -10.70) scale(14.60 21.40)" vector-effect="non-scaling-stroke" d="M.74 1V0L0 .68H1"/><circle cx="-48.62" cy="9.70" r="2.4" fill="#c2c2c2" stroke="none"/><path transform="translate(-39.10 -10.70) scale(13.40 21.40)" vector-effect="non-scaling-stroke" d="M0 0H1L.42 .4C.8 .4 1 .5 1 .7 1 .9 .8 1 .5 1 .25 1 .08 .95 0 .86"/><path transform="translate(-17.45 -10.70) scale(12.40 21.40)" vector-effect="non-scaling-stroke" d="M.5 0C.18 0 0 .2 0 .5S.18 1 .5 1 1 .8 1 .5 .82 0 .5 0z"/><path transform="translate(3.70 -10.70) scale(12.40 21.40)" vector-effect="non-scaling-stroke" d="M.5 0C.18 0 0 .2 0 .5S.18 1 .5 1 1 .8 1 .5 .82 0 .5 0z"/><path transform="translate(42.15 -10.70) scale(19.00 21.40)" vector-effect="non-scaling-stroke" d="M0 1V.3M0 .45C.08 .35 .17 .3 .28 .3 .42 .3 .5 .38 .5 .52V1M.5 .45C.58 .35 .67 .3 .78 .3 .92 .3 1 .38 1 .52V1"/><path transform="translate(72.10 -10.70) scale(19.00 21.40)" vector-effect="non-scaling-stroke" d="M0 1V.3M0 .45C.08 .35 .17 .3 .28 .3 .42 .3 .5 .38 .5 .52V1M.5 .45C.58 .35 .67 .3 .78 .3 .92 .3 1 .38 1 .52V1"/></g></svg></body></html>
